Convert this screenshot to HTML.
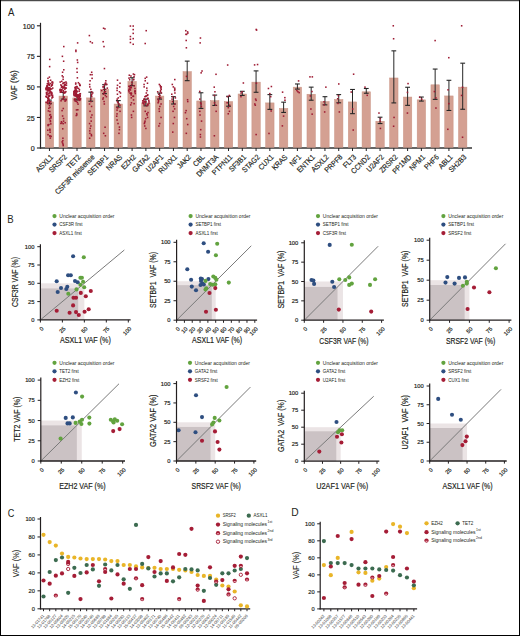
<!DOCTYPE html>
<html><head><meta charset="utf-8"><style>
html,body{margin:0;padding:0;background:#fff;}
svg{display:block;font-family:"Liberation Sans", sans-serif;}
</style></head><body>
<svg width="520" height="636" viewBox="0 0 520 636">
<rect x="0" y="0" width="520" height="636" fill="#fff"/>
<text x="7.90" y="15.80" font-size="10.6" text-anchor="start" fill="#231f20" textLength="6.40" lengthAdjust="spacingAndGlyphs">A</text>
<line x1="40.50" y1="22.80" x2="40.50" y2="148.60" stroke="#231f20" stroke-width="1.2"/>
<line x1="39.90" y1="148.00" x2="472.00" y2="148.00" stroke="#333" stroke-width="1.4"/>
<line x1="36.90" y1="148.00" x2="40.50" y2="148.00" stroke="#231f20" stroke-width="1.1"/>
<text x="34.60" y="151.10" font-size="7.1" text-anchor="end" fill="#231f20" stroke="#231f20" stroke-width="0.18">0</text>
<line x1="36.90" y1="117.45" x2="40.50" y2="117.45" stroke="#231f20" stroke-width="1.1"/>
<text x="34.60" y="120.55" font-size="7.1" text-anchor="end" fill="#231f20" stroke="#231f20" stroke-width="0.18">25</text>
<line x1="36.90" y1="86.90" x2="40.50" y2="86.90" stroke="#231f20" stroke-width="1.1"/>
<text x="34.60" y="90.00" font-size="7.1" text-anchor="end" fill="#231f20" stroke="#231f20" stroke-width="0.18">50</text>
<line x1="36.90" y1="56.35" x2="40.50" y2="56.35" stroke="#231f20" stroke-width="1.1"/>
<text x="34.60" y="59.45" font-size="7.1" text-anchor="end" fill="#231f20" stroke="#231f20" stroke-width="0.18">75</text>
<line x1="36.90" y1="25.80" x2="40.50" y2="25.80" stroke="#231f20" stroke-width="1.1"/>
<text x="34.60" y="28.90" font-size="7.1" text-anchor="end" fill="#231f20" stroke="#231f20" stroke-width="0.18">100</text>
<text x="16.90" y="85.35" font-size="8.6" text-anchor="middle" fill="#231f20" stroke="#231f20" stroke-width="0.18" transform="rotate(-90 16.90 85.35)" textLength="29.90" lengthAdjust="spacingAndGlyphs">VAF (%)</text>
<rect x="45.25" y="101.93" width="8.4" height="45.37" fill="#d4a092" stroke="#c99383" stroke-width="0.5"/>
<rect x="59.02" y="96.06" width="8.4" height="51.24" fill="#d4a092" stroke="#c99383" stroke-width="0.5"/>
<rect x="72.80" y="97.90" width="8.4" height="49.40" fill="#d4a092" stroke="#c99383" stroke-width="0.5"/>
<rect x="86.58" y="97.90" width="8.4" height="49.40" fill="#d4a092" stroke="#c99383" stroke-width="0.5"/>
<rect x="100.35" y="89.59" width="8.4" height="57.71" fill="#d4a092" stroke="#c99383" stroke-width="0.5"/>
<rect x="114.12" y="104.01" width="8.4" height="43.29" fill="#d4a092" stroke="#c99383" stroke-width="0.5"/>
<rect x="127.90" y="81.40" width="8.4" height="65.90" fill="#d4a092" stroke="#c99383" stroke-width="0.5"/>
<rect x="141.68" y="102.91" width="8.4" height="44.39" fill="#d4a092" stroke="#c99383" stroke-width="0.5"/>
<rect x="155.45" y="96.06" width="8.4" height="51.24" fill="#d4a092" stroke="#c99383" stroke-width="0.5"/>
<rect x="169.23" y="100.34" width="8.4" height="46.96" fill="#d4a092" stroke="#c99383" stroke-width="0.5"/>
<rect x="183.00" y="71.62" width="8.4" height="75.68" fill="#d4a092" stroke="#c99383" stroke-width="0.5"/>
<rect x="196.78" y="100.95" width="8.4" height="46.35" fill="#d4a092" stroke="#c99383" stroke-width="0.5"/>
<rect x="210.55" y="100.59" width="8.4" height="46.71" fill="#d4a092" stroke="#c99383" stroke-width="0.5"/>
<rect x="224.33" y="101.56" width="8.4" height="45.74" fill="#d4a092" stroke="#c99383" stroke-width="0.5"/>
<rect x="238.10" y="93.99" width="8.4" height="53.31" fill="#d4a092" stroke="#c99383" stroke-width="0.5"/>
<rect x="251.88" y="82.13" width="8.4" height="65.17" fill="#d4a092" stroke="#c99383" stroke-width="0.5"/>
<rect x="265.65" y="102.91" width="8.4" height="44.39" fill="#d4a092" stroke="#c99383" stroke-width="0.5"/>
<rect x="279.43" y="108.41" width="8.4" height="38.89" fill="#d4a092" stroke="#c99383" stroke-width="0.5"/>
<rect x="293.20" y="87.14" width="8.4" height="60.16" fill="#d4a092" stroke="#c99383" stroke-width="0.5"/>
<rect x="306.98" y="94.23" width="8.4" height="53.07" fill="#d4a092" stroke="#c99383" stroke-width="0.5"/>
<rect x="320.75" y="101.56" width="8.4" height="45.74" fill="#d4a092" stroke="#c99383" stroke-width="0.5"/>
<rect x="334.53" y="99.49" width="8.4" height="47.81" fill="#d4a092" stroke="#c99383" stroke-width="0.5"/>
<rect x="348.30" y="101.93" width="8.4" height="45.37" fill="#d4a092" stroke="#c99383" stroke-width="0.5"/>
<rect x="362.07" y="91.79" width="8.4" height="55.51" fill="#d4a092" stroke="#c99383" stroke-width="0.5"/>
<rect x="375.85" y="121.24" width="8.4" height="26.06" fill="#d4a092" stroke="#c99383" stroke-width="0.5"/>
<rect x="389.62" y="77.98" width="8.4" height="69.32" fill="#d4a092" stroke="#c99383" stroke-width="0.5"/>
<rect x="403.40" y="97.04" width="8.4" height="50.26" fill="#d4a092" stroke="#c99383" stroke-width="0.5"/>
<rect x="417.18" y="99.85" width="8.4" height="47.45" fill="#d4a092" stroke="#c99383" stroke-width="0.5"/>
<rect x="430.95" y="84.82" width="8.4" height="62.48" fill="#d4a092" stroke="#c99383" stroke-width="0.5"/>
<rect x="444.73" y="95.94" width="8.4" height="51.36" fill="#d4a092" stroke="#c99383" stroke-width="0.5"/>
<rect x="458.50" y="87.14" width="8.4" height="60.16" fill="#d4a092" stroke="#c99383" stroke-width="0.5"/>
<line x1="49.45" y1="100.10" x2="49.45" y2="103.64" stroke="#262626" stroke-width="1.0"/>
<line x1="47.05" y1="100.10" x2="51.85" y2="100.10" stroke="#262626" stroke-width="1.1"/>
<line x1="47.05" y1="103.64" x2="51.85" y2="103.64" stroke="#262626" stroke-width="1.1"/>
<line x1="49.45" y1="148.00" x2="49.45" y2="151.00" stroke="#231f20" stroke-width="1.0"/>
<text x="53.75" y="157.70" font-size="7.6" text-anchor="end" fill="#231f20" stroke="#231f20" stroke-width="0.18" transform="rotate(-45 53.75 157.70)" textLength="21.03" lengthAdjust="spacingAndGlyphs">ASXL1</text>
<line x1="63.23" y1="92.40" x2="63.23" y2="99.12" stroke="#262626" stroke-width="1.0"/>
<line x1="60.83" y1="92.40" x2="65.62" y2="92.40" stroke="#262626" stroke-width="1.1"/>
<line x1="60.83" y1="99.12" x2="65.62" y2="99.12" stroke="#262626" stroke-width="1.1"/>
<line x1="63.23" y1="148.00" x2="63.23" y2="151.00" stroke="#231f20" stroke-width="1.0"/>
<text x="67.53" y="157.70" font-size="7.6" text-anchor="end" fill="#231f20" stroke="#231f20" stroke-width="0.18" transform="rotate(-45 67.53 157.70)" textLength="21.77" lengthAdjust="spacingAndGlyphs">SRSF2</text>
<line x1="77.00" y1="95.45" x2="77.00" y2="99.98" stroke="#262626" stroke-width="1.0"/>
<line x1="74.60" y1="95.45" x2="79.40" y2="95.45" stroke="#262626" stroke-width="1.1"/>
<line x1="74.60" y1="99.98" x2="79.40" y2="99.98" stroke="#262626" stroke-width="1.1"/>
<line x1="77.00" y1="148.00" x2="77.00" y2="151.00" stroke="#231f20" stroke-width="1.0"/>
<text x="81.30" y="157.70" font-size="7.6" text-anchor="end" fill="#231f20" stroke="#231f20" stroke-width="0.18" transform="rotate(-45 81.30 157.70)" textLength="16.51" lengthAdjust="spacingAndGlyphs">TET2</text>
<line x1="90.78" y1="92.15" x2="90.78" y2="101.20" stroke="#262626" stroke-width="1.0"/>
<line x1="88.38" y1="92.15" x2="93.18" y2="92.15" stroke="#262626" stroke-width="1.1"/>
<line x1="88.38" y1="101.20" x2="93.18" y2="101.20" stroke="#262626" stroke-width="1.1"/>
<line x1="90.78" y1="148.00" x2="90.78" y2="151.00" stroke="#231f20" stroke-width="1.0"/>
<text x="95.08" y="157.70" font-size="7.6" text-anchor="end" fill="#231f20" stroke="#231f20" stroke-width="0.18" transform="rotate(-45 95.08 157.70)" textLength="52.55" lengthAdjust="spacingAndGlyphs">CSF3R missense</text>
<line x1="104.55" y1="84.70" x2="104.55" y2="93.62" stroke="#262626" stroke-width="1.0"/>
<line x1="102.15" y1="84.70" x2="106.95" y2="84.70" stroke="#262626" stroke-width="1.1"/>
<line x1="102.15" y1="93.62" x2="106.95" y2="93.62" stroke="#262626" stroke-width="1.1"/>
<line x1="104.55" y1="148.00" x2="104.55" y2="151.00" stroke="#231f20" stroke-width="1.0"/>
<text x="108.85" y="157.70" font-size="7.6" text-anchor="end" fill="#231f20" stroke="#231f20" stroke-width="0.18" transform="rotate(-45 108.85 157.70)" textLength="25.91" lengthAdjust="spacingAndGlyphs">SETBP1</text>
<line x1="118.33" y1="100.59" x2="118.33" y2="107.06" stroke="#262626" stroke-width="1.0"/>
<line x1="115.92" y1="100.59" x2="120.73" y2="100.59" stroke="#262626" stroke-width="1.1"/>
<line x1="115.92" y1="107.06" x2="120.73" y2="107.06" stroke="#262626" stroke-width="1.1"/>
<line x1="118.33" y1="148.00" x2="118.33" y2="151.00" stroke="#231f20" stroke-width="1.0"/>
<text x="122.62" y="157.70" font-size="7.6" text-anchor="end" fill="#231f20" stroke="#231f20" stroke-width="0.18" transform="rotate(-45 122.62 157.70)" textLength="18.77" lengthAdjust="spacingAndGlyphs">NRAS</text>
<line x1="132.10" y1="77.73" x2="132.10" y2="85.68" stroke="#262626" stroke-width="1.0"/>
<line x1="129.70" y1="77.73" x2="134.50" y2="77.73" stroke="#262626" stroke-width="1.1"/>
<line x1="129.70" y1="85.68" x2="134.50" y2="85.68" stroke="#262626" stroke-width="1.1"/>
<line x1="132.10" y1="148.00" x2="132.10" y2="151.00" stroke="#231f20" stroke-width="1.0"/>
<text x="136.40" y="157.70" font-size="7.6" text-anchor="end" fill="#231f20" stroke="#231f20" stroke-width="0.18" transform="rotate(-45 136.40 157.70)" textLength="17.27" lengthAdjust="spacingAndGlyphs">EZH2</text>
<line x1="145.88" y1="99.12" x2="145.88" y2="105.84" stroke="#262626" stroke-width="1.0"/>
<line x1="143.47" y1="99.12" x2="148.28" y2="99.12" stroke="#262626" stroke-width="1.1"/>
<line x1="143.47" y1="105.84" x2="148.28" y2="105.84" stroke="#262626" stroke-width="1.1"/>
<line x1="145.88" y1="148.00" x2="145.88" y2="151.00" stroke="#231f20" stroke-width="1.0"/>
<text x="150.18" y="157.70" font-size="7.6" text-anchor="end" fill="#231f20" stroke="#231f20" stroke-width="0.18" transform="rotate(-45 150.18 157.70)" textLength="21.15" lengthAdjust="spacingAndGlyphs">GATA2</text>
<line x1="159.65" y1="93.01" x2="159.65" y2="99.12" stroke="#262626" stroke-width="1.0"/>
<line x1="157.25" y1="93.01" x2="162.05" y2="93.01" stroke="#262626" stroke-width="1.1"/>
<line x1="157.25" y1="99.12" x2="162.05" y2="99.12" stroke="#262626" stroke-width="1.1"/>
<line x1="159.65" y1="148.00" x2="159.65" y2="151.00" stroke="#231f20" stroke-width="1.0"/>
<text x="163.95" y="157.70" font-size="7.6" text-anchor="end" fill="#231f20" stroke="#231f20" stroke-width="0.18" transform="rotate(-45 163.95 157.70)" textLength="21.02" lengthAdjust="spacingAndGlyphs">U2AF1</text>
<line x1="173.43" y1="96.68" x2="173.43" y2="104.01" stroke="#262626" stroke-width="1.0"/>
<line x1="171.03" y1="96.68" x2="175.83" y2="96.68" stroke="#262626" stroke-width="1.1"/>
<line x1="171.03" y1="104.01" x2="175.83" y2="104.01" stroke="#262626" stroke-width="1.1"/>
<line x1="173.43" y1="148.00" x2="173.43" y2="151.00" stroke="#231f20" stroke-width="1.0"/>
<text x="177.73" y="157.70" font-size="7.6" text-anchor="end" fill="#231f20" stroke="#231f20" stroke-width="0.18" transform="rotate(-45 177.73 157.70)" textLength="22.90" lengthAdjust="spacingAndGlyphs">RUNX1</text>
<line x1="187.20" y1="61.12" x2="187.20" y2="80.67" stroke="#262626" stroke-width="1.0"/>
<line x1="184.80" y1="61.12" x2="189.60" y2="61.12" stroke="#262626" stroke-width="1.1"/>
<line x1="184.80" y1="80.67" x2="189.60" y2="80.67" stroke="#262626" stroke-width="1.1"/>
<line x1="187.20" y1="148.00" x2="187.20" y2="151.00" stroke="#231f20" stroke-width="1.0"/>
<text x="191.50" y="157.70" font-size="7.6" text-anchor="end" fill="#231f20" stroke="#231f20" stroke-width="0.18" transform="rotate(-45 191.50 157.70)" textLength="16.15" lengthAdjust="spacingAndGlyphs">JAK2</text>
<line x1="200.98" y1="92.77" x2="200.98" y2="108.41" stroke="#262626" stroke-width="1.0"/>
<line x1="198.58" y1="92.77" x2="203.38" y2="92.77" stroke="#262626" stroke-width="1.1"/>
<line x1="198.58" y1="108.41" x2="203.38" y2="108.41" stroke="#262626" stroke-width="1.1"/>
<line x1="200.98" y1="148.00" x2="200.98" y2="151.00" stroke="#231f20" stroke-width="1.0"/>
<text x="205.28" y="157.70" font-size="7.6" text-anchor="end" fill="#231f20" stroke="#231f20" stroke-width="0.18" transform="rotate(-45 205.28 157.70)" textLength="13.14" lengthAdjust="spacingAndGlyphs">CBL</text>
<line x1="214.75" y1="95.09" x2="214.75" y2="105.47" stroke="#262626" stroke-width="1.0"/>
<line x1="212.35" y1="95.09" x2="217.15" y2="95.09" stroke="#262626" stroke-width="1.1"/>
<line x1="212.35" y1="105.47" x2="217.15" y2="105.47" stroke="#262626" stroke-width="1.1"/>
<line x1="214.75" y1="148.00" x2="214.75" y2="151.00" stroke="#231f20" stroke-width="1.0"/>
<text x="219.05" y="157.70" font-size="7.6" text-anchor="end" fill="#231f20" stroke="#231f20" stroke-width="0.18" transform="rotate(-45 219.05 157.70)" textLength="27.77" lengthAdjust="spacingAndGlyphs">DNMT3A</text>
<line x1="228.53" y1="96.31" x2="228.53" y2="106.21" stroke="#262626" stroke-width="1.0"/>
<line x1="226.13" y1="96.31" x2="230.93" y2="96.31" stroke="#262626" stroke-width="1.1"/>
<line x1="226.13" y1="106.21" x2="230.93" y2="106.21" stroke="#262626" stroke-width="1.1"/>
<line x1="228.53" y1="148.00" x2="228.53" y2="151.00" stroke="#231f20" stroke-width="1.0"/>
<text x="232.83" y="157.70" font-size="7.6" text-anchor="end" fill="#231f20" stroke="#231f20" stroke-width="0.18" transform="rotate(-45 232.83 157.70)" textLength="25.03" lengthAdjust="spacingAndGlyphs">PTPN11</text>
<line x1="242.30" y1="91.30" x2="242.30" y2="95.45" stroke="#262626" stroke-width="1.0"/>
<line x1="239.90" y1="91.30" x2="244.70" y2="91.30" stroke="#262626" stroke-width="1.1"/>
<line x1="239.90" y1="95.45" x2="244.70" y2="95.45" stroke="#262626" stroke-width="1.1"/>
<line x1="242.30" y1="148.00" x2="242.30" y2="151.00" stroke="#231f20" stroke-width="1.0"/>
<text x="246.60" y="157.70" font-size="7.6" text-anchor="end" fill="#231f20" stroke="#231f20" stroke-width="0.18" transform="rotate(-45 246.60 157.70)" textLength="20.65" lengthAdjust="spacingAndGlyphs">SF3B1</text>
<line x1="256.07" y1="70.89" x2="256.07" y2="92.28" stroke="#262626" stroke-width="1.0"/>
<line x1="253.67" y1="70.89" x2="258.47" y2="70.89" stroke="#262626" stroke-width="1.1"/>
<line x1="253.67" y1="92.28" x2="258.47" y2="92.28" stroke="#262626" stroke-width="1.1"/>
<line x1="256.07" y1="148.00" x2="256.07" y2="151.00" stroke="#231f20" stroke-width="1.0"/>
<text x="260.38" y="157.70" font-size="7.6" text-anchor="end" fill="#231f20" stroke="#231f20" stroke-width="0.18" transform="rotate(-45 260.38 157.70)" textLength="21.65" lengthAdjust="spacingAndGlyphs">STAG2</text>
<line x1="269.85" y1="94.60" x2="269.85" y2="109.38" stroke="#262626" stroke-width="1.0"/>
<line x1="267.45" y1="94.60" x2="272.25" y2="94.60" stroke="#262626" stroke-width="1.1"/>
<line x1="267.45" y1="109.38" x2="272.25" y2="109.38" stroke="#262626" stroke-width="1.1"/>
<line x1="269.85" y1="148.00" x2="269.85" y2="151.00" stroke="#231f20" stroke-width="1.0"/>
<text x="274.15" y="157.70" font-size="7.6" text-anchor="end" fill="#231f20" stroke="#231f20" stroke-width="0.18" transform="rotate(-45 274.15 157.70)" textLength="18.02" lengthAdjust="spacingAndGlyphs">CUX1</text>
<line x1="283.62" y1="102.17" x2="283.62" y2="112.44" stroke="#262626" stroke-width="1.0"/>
<line x1="281.23" y1="102.17" x2="286.02" y2="102.17" stroke="#262626" stroke-width="1.1"/>
<line x1="281.23" y1="112.44" x2="286.02" y2="112.44" stroke="#262626" stroke-width="1.1"/>
<line x1="283.62" y1="148.00" x2="283.62" y2="151.00" stroke="#231f20" stroke-width="1.0"/>
<text x="287.93" y="157.70" font-size="7.6" text-anchor="end" fill="#231f20" stroke="#231f20" stroke-width="0.18" transform="rotate(-45 287.93 157.70)" textLength="18.40" lengthAdjust="spacingAndGlyphs">KRAS</text>
<line x1="297.40" y1="83.97" x2="297.40" y2="89.10" stroke="#262626" stroke-width="1.0"/>
<line x1="295.00" y1="83.97" x2="299.80" y2="83.97" stroke="#262626" stroke-width="1.1"/>
<line x1="295.00" y1="89.10" x2="299.80" y2="89.10" stroke="#262626" stroke-width="1.1"/>
<line x1="297.40" y1="148.00" x2="297.40" y2="151.00" stroke="#231f20" stroke-width="1.0"/>
<text x="301.70" y="157.70" font-size="7.6" text-anchor="end" fill="#231f20" stroke="#231f20" stroke-width="0.18" transform="rotate(-45 301.70 157.70)" textLength="12.76" lengthAdjust="spacingAndGlyphs">NF1</text>
<line x1="311.18" y1="87.14" x2="311.18" y2="100.22" stroke="#262626" stroke-width="1.0"/>
<line x1="308.78" y1="87.14" x2="313.57" y2="87.14" stroke="#262626" stroke-width="1.1"/>
<line x1="308.78" y1="100.22" x2="313.57" y2="100.22" stroke="#262626" stroke-width="1.1"/>
<line x1="311.18" y1="148.00" x2="311.18" y2="151.00" stroke="#231f20" stroke-width="1.0"/>
<text x="315.48" y="157.70" font-size="7.6" text-anchor="end" fill="#231f20" stroke="#231f20" stroke-width="0.18" transform="rotate(-45 315.48 157.70)" textLength="21.77" lengthAdjust="spacingAndGlyphs">ENTK1</text>
<line x1="324.95" y1="96.68" x2="324.95" y2="104.86" stroke="#262626" stroke-width="1.0"/>
<line x1="322.55" y1="96.68" x2="327.35" y2="96.68" stroke="#262626" stroke-width="1.1"/>
<line x1="322.55" y1="104.86" x2="327.35" y2="104.86" stroke="#262626" stroke-width="1.1"/>
<line x1="324.95" y1="148.00" x2="324.95" y2="151.00" stroke="#231f20" stroke-width="1.0"/>
<text x="329.25" y="157.70" font-size="7.6" text-anchor="end" fill="#231f20" stroke="#231f20" stroke-width="0.18" transform="rotate(-45 329.25 157.70)" textLength="21.03" lengthAdjust="spacingAndGlyphs">ASXL2</text>
<line x1="338.73" y1="94.60" x2="338.73" y2="102.79" stroke="#262626" stroke-width="1.0"/>
<line x1="336.33" y1="94.60" x2="341.12" y2="94.60" stroke="#262626" stroke-width="1.1"/>
<line x1="336.33" y1="102.79" x2="341.12" y2="102.79" stroke="#262626" stroke-width="1.1"/>
<line x1="338.73" y1="148.00" x2="338.73" y2="151.00" stroke="#231f20" stroke-width="1.0"/>
<text x="343.03" y="157.70" font-size="7.6" text-anchor="end" fill="#231f20" stroke="#231f20" stroke-width="0.18" transform="rotate(-45 343.03 157.70)" textLength="21.77" lengthAdjust="spacingAndGlyphs">PRPF8</text>
<line x1="352.50" y1="89.47" x2="352.50" y2="113.66" stroke="#262626" stroke-width="1.0"/>
<line x1="350.10" y1="89.47" x2="354.90" y2="89.47" stroke="#262626" stroke-width="1.1"/>
<line x1="350.10" y1="113.66" x2="354.90" y2="113.66" stroke="#262626" stroke-width="1.1"/>
<line x1="352.50" y1="148.00" x2="352.50" y2="151.00" stroke="#231f20" stroke-width="1.0"/>
<text x="356.80" y="157.70" font-size="7.6" text-anchor="end" fill="#231f20" stroke="#231f20" stroke-width="0.18" transform="rotate(-45 356.80 157.70)" textLength="15.26" lengthAdjust="spacingAndGlyphs">FLT3</text>
<line x1="366.27" y1="88.49" x2="366.27" y2="93.25" stroke="#262626" stroke-width="1.0"/>
<line x1="363.88" y1="88.49" x2="368.67" y2="88.49" stroke="#262626" stroke-width="1.1"/>
<line x1="363.88" y1="93.25" x2="368.67" y2="93.25" stroke="#262626" stroke-width="1.1"/>
<line x1="366.27" y1="148.00" x2="366.27" y2="151.00" stroke="#231f20" stroke-width="1.0"/>
<text x="370.57" y="157.70" font-size="7.6" text-anchor="end" fill="#231f20" stroke="#231f20" stroke-width="0.18" transform="rotate(-45 370.57 157.70)" textLength="23.27" lengthAdjust="spacingAndGlyphs">CCND2</text>
<line x1="380.05" y1="117.21" x2="380.05" y2="123.56" stroke="#262626" stroke-width="1.0"/>
<line x1="377.65" y1="117.21" x2="382.45" y2="117.21" stroke="#262626" stroke-width="1.1"/>
<line x1="377.65" y1="123.56" x2="382.45" y2="123.56" stroke="#262626" stroke-width="1.1"/>
<line x1="380.05" y1="148.00" x2="380.05" y2="151.00" stroke="#231f20" stroke-width="1.0"/>
<text x="384.35" y="157.70" font-size="7.6" text-anchor="end" fill="#231f20" stroke="#231f20" stroke-width="0.18" transform="rotate(-45 384.35 157.70)" textLength="21.02" lengthAdjust="spacingAndGlyphs">U2AF2</text>
<line x1="393.82" y1="50.85" x2="393.82" y2="102.91" stroke="#262626" stroke-width="1.0"/>
<line x1="391.43" y1="50.85" x2="396.22" y2="50.85" stroke="#262626" stroke-width="1.1"/>
<line x1="391.43" y1="102.91" x2="396.22" y2="102.91" stroke="#262626" stroke-width="1.1"/>
<line x1="393.82" y1="148.00" x2="393.82" y2="151.00" stroke="#231f20" stroke-width="1.0"/>
<text x="398.12" y="157.70" font-size="7.6" text-anchor="end" fill="#231f20" stroke="#231f20" stroke-width="0.18" transform="rotate(-45 398.12 157.70)" textLength="22.14" lengthAdjust="spacingAndGlyphs">ZRSR2</text>
<line x1="407.60" y1="87.27" x2="407.60" y2="105.35" stroke="#262626" stroke-width="1.0"/>
<line x1="405.20" y1="87.27" x2="410.00" y2="87.27" stroke="#262626" stroke-width="1.1"/>
<line x1="405.20" y1="105.35" x2="410.00" y2="105.35" stroke="#262626" stroke-width="1.1"/>
<line x1="407.60" y1="148.00" x2="407.60" y2="151.00" stroke="#231f20" stroke-width="1.0"/>
<text x="411.90" y="157.70" font-size="7.6" text-anchor="end" fill="#231f20" stroke="#231f20" stroke-width="0.18" transform="rotate(-45 411.90 157.70)" textLength="23.27" lengthAdjust="spacingAndGlyphs">PP1MD</text>
<line x1="421.38" y1="97.04" x2="421.38" y2="101.08" stroke="#262626" stroke-width="1.0"/>
<line x1="418.98" y1="97.04" x2="423.77" y2="97.04" stroke="#262626" stroke-width="1.1"/>
<line x1="418.98" y1="101.08" x2="423.77" y2="101.08" stroke="#262626" stroke-width="1.1"/>
<line x1="421.38" y1="148.00" x2="421.38" y2="151.00" stroke="#231f20" stroke-width="1.0"/>
<text x="425.68" y="157.70" font-size="7.6" text-anchor="end" fill="#231f20" stroke="#231f20" stroke-width="0.18" transform="rotate(-45 425.68 157.70)" textLength="18.77" lengthAdjust="spacingAndGlyphs">NPM1</text>
<line x1="435.15" y1="69.06" x2="435.15" y2="99.36" stroke="#262626" stroke-width="1.0"/>
<line x1="432.75" y1="69.06" x2="437.55" y2="69.06" stroke="#262626" stroke-width="1.1"/>
<line x1="432.75" y1="99.36" x2="437.55" y2="99.36" stroke="#262626" stroke-width="1.1"/>
<line x1="435.15" y1="148.00" x2="435.15" y2="151.00" stroke="#231f20" stroke-width="1.0"/>
<text x="439.45" y="157.70" font-size="7.6" text-anchor="end" fill="#231f20" stroke="#231f20" stroke-width="0.18" transform="rotate(-45 439.45 157.70)" textLength="17.27" lengthAdjust="spacingAndGlyphs">PHF6</text>
<line x1="448.93" y1="80.30" x2="448.93" y2="110.48" stroke="#262626" stroke-width="1.0"/>
<line x1="446.53" y1="80.30" x2="451.32" y2="80.30" stroke="#262626" stroke-width="1.1"/>
<line x1="446.53" y1="110.48" x2="451.32" y2="110.48" stroke="#262626" stroke-width="1.1"/>
<line x1="448.93" y1="148.00" x2="448.93" y2="151.00" stroke="#231f20" stroke-width="1.0"/>
<text x="453.23" y="157.70" font-size="7.6" text-anchor="end" fill="#231f20" stroke="#231f20" stroke-width="0.18" transform="rotate(-45 453.23 157.70)" textLength="16.52" lengthAdjust="spacingAndGlyphs">ABL1</text>
<line x1="462.70" y1="63.19" x2="462.70" y2="109.26" stroke="#262626" stroke-width="1.0"/>
<line x1="460.30" y1="63.19" x2="465.10" y2="63.19" stroke="#262626" stroke-width="1.1"/>
<line x1="460.30" y1="109.26" x2="465.10" y2="109.26" stroke="#262626" stroke-width="1.1"/>
<line x1="462.70" y1="148.00" x2="462.70" y2="151.00" stroke="#231f20" stroke-width="1.0"/>
<text x="467.00" y="157.70" font-size="7.6" text-anchor="end" fill="#231f20" stroke="#231f20" stroke-width="0.18" transform="rotate(-45 467.00 157.70)" textLength="21.40" lengthAdjust="spacingAndGlyphs">SH2B3</text>
<rect x="50.73" y="92.73" width="1.55" height="1.55" fill="#9e1b33"/>
<rect x="45.84" y="87.58" width="1.55" height="1.55" fill="#9e1b33"/>
<rect x="51.10" y="92.53" width="1.55" height="1.55" fill="#9e1b33"/>
<rect x="45.73" y="93.13" width="1.55" height="1.55" fill="#9e1b33"/>
<rect x="51.14" y="97.26" width="1.55" height="1.55" fill="#9e1b33"/>
<rect x="48.36" y="92.45" width="1.55" height="1.55" fill="#9e1b33"/>
<rect x="47.58" y="83.54" width="1.55" height="1.55" fill="#9e1b33"/>
<rect x="49.04" y="88.16" width="1.55" height="1.55" fill="#9e1b33"/>
<rect x="51.58" y="84.04" width="1.55" height="1.55" fill="#9e1b33"/>
<rect x="47.10" y="89.34" width="1.55" height="1.55" fill="#9e1b33"/>
<rect x="46.15" y="88.36" width="1.55" height="1.55" fill="#9e1b33"/>
<rect x="48.86" y="89.77" width="1.55" height="1.55" fill="#9e1b33"/>
<rect x="46.90" y="102.21" width="1.55" height="1.55" fill="#9e1b33"/>
<rect x="46.02" y="85.26" width="1.55" height="1.55" fill="#9e1b33"/>
<rect x="46.37" y="87.61" width="1.55" height="1.55" fill="#9e1b33"/>
<rect x="45.62" y="87.66" width="1.55" height="1.55" fill="#9e1b33"/>
<rect x="46.80" y="102.38" width="1.55" height="1.55" fill="#9e1b33"/>
<rect x="47.40" y="102.73" width="1.55" height="1.55" fill="#9e1b33"/>
<rect x="47.35" y="96.99" width="1.55" height="1.55" fill="#9e1b33"/>
<rect x="50.44" y="94.16" width="1.55" height="1.55" fill="#9e1b33"/>
<rect x="47.25" y="88.96" width="1.55" height="1.55" fill="#9e1b33"/>
<rect x="48.68" y="91.32" width="1.55" height="1.55" fill="#9e1b33"/>
<rect x="46.48" y="87.51" width="1.55" height="1.55" fill="#9e1b33"/>
<rect x="47.63" y="95.33" width="1.55" height="1.55" fill="#9e1b33"/>
<rect x="45.40" y="88.94" width="1.55" height="1.55" fill="#9e1b33"/>
<rect x="46.98" y="88.36" width="1.55" height="1.55" fill="#9e1b33"/>
<rect x="45.38" y="95.46" width="1.55" height="1.55" fill="#9e1b33"/>
<rect x="49.83" y="79.47" width="1.55" height="1.55" fill="#9e1b33"/>
<rect x="49.02" y="87.27" width="1.55" height="1.55" fill="#9e1b33"/>
<rect x="46.56" y="82.97" width="1.55" height="1.55" fill="#9e1b33"/>
<rect x="48.50" y="95.18" width="1.55" height="1.55" fill="#9e1b33"/>
<rect x="51.63" y="95.98" width="1.55" height="1.55" fill="#9e1b33"/>
<rect x="46.00" y="93.33" width="1.55" height="1.55" fill="#9e1b33"/>
<rect x="50.84" y="91.73" width="1.55" height="1.55" fill="#9e1b33"/>
<rect x="48.21" y="86.76" width="1.55" height="1.55" fill="#9e1b33"/>
<rect x="48.64" y="89.34" width="1.55" height="1.55" fill="#9e1b33"/>
<rect x="50.95" y="94.02" width="1.55" height="1.55" fill="#9e1b33"/>
<rect x="47.95" y="97.44" width="1.55" height="1.55" fill="#9e1b33"/>
<rect x="48.72" y="94.51" width="1.55" height="1.55" fill="#9e1b33"/>
<rect x="49.95" y="82.81" width="1.55" height="1.55" fill="#9e1b33"/>
<rect x="51.96" y="96.44" width="1.55" height="1.55" fill="#9e1b33"/>
<rect x="47.61" y="89.37" width="1.55" height="1.55" fill="#9e1b33"/>
<rect x="50.93" y="88.15" width="1.55" height="1.55" fill="#9e1b33"/>
<rect x="50.08" y="101.03" width="1.55" height="1.55" fill="#9e1b33"/>
<rect x="49.60" y="90.69" width="1.55" height="1.55" fill="#9e1b33"/>
<rect x="48.03" y="82.23" width="1.55" height="1.55" fill="#9e1b33"/>
<rect x="47.64" y="93.17" width="1.55" height="1.55" fill="#9e1b33"/>
<rect x="45.64" y="91.73" width="1.55" height="1.55" fill="#9e1b33"/>
<rect x="46.16" y="96.51" width="1.55" height="1.55" fill="#9e1b33"/>
<rect x="45.76" y="87.67" width="1.55" height="1.55" fill="#9e1b33"/>
<rect x="50.31" y="91.43" width="1.55" height="1.55" fill="#9e1b33"/>
<rect x="47.01" y="100.86" width="1.55" height="1.55" fill="#9e1b33"/>
<rect x="46.39" y="85.45" width="1.55" height="1.55" fill="#9e1b33"/>
<rect x="45.85" y="86.51" width="1.55" height="1.55" fill="#9e1b33"/>
<rect x="51.00" y="84.66" width="1.55" height="1.55" fill="#9e1b33"/>
<rect x="51.19" y="81.33" width="1.55" height="1.55" fill="#9e1b33"/>
<rect x="49.83" y="88.58" width="1.55" height="1.55" fill="#9e1b33"/>
<rect x="47.19" y="90.21" width="1.55" height="1.55" fill="#9e1b33"/>
<rect x="46.92" y="99.74" width="1.55" height="1.55" fill="#9e1b33"/>
<rect x="47.27" y="86.88" width="1.55" height="1.55" fill="#9e1b33"/>
<rect x="48.40" y="95.12" width="1.55" height="1.55" fill="#9e1b33"/>
<rect x="46.35" y="94.06" width="1.55" height="1.55" fill="#9e1b33"/>
<rect x="48.31" y="99.51" width="1.55" height="1.55" fill="#9e1b33"/>
<rect x="47.07" y="97.52" width="1.55" height="1.55" fill="#9e1b33"/>
<rect x="51.82" y="94.58" width="1.55" height="1.55" fill="#9e1b33"/>
<rect x="51.89" y="82.35" width="1.55" height="1.55" fill="#9e1b33"/>
<rect x="49.00" y="100.81" width="1.55" height="1.55" fill="#9e1b33"/>
<rect x="46.94" y="89.40" width="1.55" height="1.55" fill="#9e1b33"/>
<rect x="51.84" y="81.31" width="1.55" height="1.55" fill="#9e1b33"/>
<rect x="47.38" y="87.12" width="1.55" height="1.55" fill="#9e1b33"/>
<rect x="47.70" y="88.61" width="1.55" height="1.55" fill="#9e1b33"/>
<rect x="45.28" y="95.96" width="1.55" height="1.55" fill="#9e1b33"/>
<rect x="47.87" y="98.54" width="1.55" height="1.55" fill="#9e1b33"/>
<rect x="48.50" y="84.44" width="1.55" height="1.55" fill="#9e1b33"/>
<rect x="48.69" y="83.61" width="1.55" height="1.55" fill="#9e1b33"/>
<rect x="46.64" y="89.96" width="1.55" height="1.55" fill="#9e1b33"/>
<rect x="48.71" y="89.36" width="1.55" height="1.55" fill="#9e1b33"/>
<rect x="45.31" y="88.09" width="1.55" height="1.55" fill="#9e1b33"/>
<rect x="47.19" y="80.30" width="1.55" height="1.55" fill="#9e1b33"/>
<rect x="45.89" y="86.85" width="1.55" height="1.55" fill="#9e1b33"/>
<rect x="47.99" y="87.53" width="1.55" height="1.55" fill="#9e1b33"/>
<rect x="45.56" y="87.33" width="1.55" height="1.55" fill="#9e1b33"/>
<rect x="45.43" y="101.55" width="1.55" height="1.55" fill="#9e1b33"/>
<rect x="47.34" y="82.40" width="1.55" height="1.55" fill="#9e1b33"/>
<rect x="46.86" y="84.59" width="1.55" height="1.55" fill="#9e1b33"/>
<rect x="49.26" y="87.45" width="1.55" height="1.55" fill="#9e1b33"/>
<rect x="48.87" y="95.27" width="1.55" height="1.55" fill="#9e1b33"/>
<rect x="50.38" y="85.35" width="1.55" height="1.55" fill="#9e1b33"/>
<rect x="49.75" y="103.19" width="1.55" height="1.55" fill="#9e1b33"/>
<rect x="50.14" y="92.25" width="1.55" height="1.55" fill="#9e1b33"/>
<rect x="51.25" y="84.16" width="1.55" height="1.55" fill="#9e1b33"/>
<rect x="47.92" y="99.83" width="1.55" height="1.55" fill="#9e1b33"/>
<rect x="47.58" y="80.19" width="1.55" height="1.55" fill="#9e1b33"/>
<rect x="51.97" y="87.30" width="1.55" height="1.55" fill="#9e1b33"/>
<rect x="46.29" y="92.02" width="1.55" height="1.55" fill="#9e1b33"/>
<rect x="49.34" y="131.42" width="1.55" height="1.55" fill="#9e1b33"/>
<rect x="49.20" y="129.51" width="1.55" height="1.55" fill="#9e1b33"/>
<rect x="47.01" y="129.47" width="1.55" height="1.55" fill="#9e1b33"/>
<rect x="49.67" y="120.86" width="1.55" height="1.55" fill="#9e1b33"/>
<rect x="50.10" y="117.29" width="1.55" height="1.55" fill="#9e1b33"/>
<rect x="49.05" y="128.46" width="1.55" height="1.55" fill="#9e1b33"/>
<rect x="49.53" y="137.31" width="1.55" height="1.55" fill="#9e1b33"/>
<rect x="50.02" y="123.11" width="1.55" height="1.55" fill="#9e1b33"/>
<rect x="47.36" y="124.81" width="1.55" height="1.55" fill="#9e1b33"/>
<rect x="48.78" y="118.07" width="1.55" height="1.55" fill="#9e1b33"/>
<rect x="48.69" y="104.84" width="1.55" height="1.55" fill="#9e1b33"/>
<rect x="49.67" y="113.82" width="1.55" height="1.55" fill="#9e1b33"/>
<rect x="49.58" y="119.81" width="1.55" height="1.55" fill="#9e1b33"/>
<rect x="50.08" y="116.32" width="1.55" height="1.55" fill="#9e1b33"/>
<rect x="48.98" y="114.31" width="1.55" height="1.55" fill="#9e1b33"/>
<rect x="50.36" y="135.60" width="1.55" height="1.55" fill="#9e1b33"/>
<rect x="49.22" y="106.67" width="1.55" height="1.55" fill="#9e1b33"/>
<rect x="49.12" y="110.76" width="1.55" height="1.55" fill="#9e1b33"/>
<rect x="48.05" y="107.53" width="1.55" height="1.55" fill="#9e1b33"/>
<rect x="47.59" y="110.15" width="1.55" height="1.55" fill="#9e1b33"/>
<rect x="47.34" y="124.02" width="1.55" height="1.55" fill="#9e1b33"/>
<rect x="48.17" y="123.80" width="1.55" height="1.55" fill="#9e1b33"/>
<rect x="47.24" y="133.91" width="1.55" height="1.55" fill="#9e1b33"/>
<rect x="50.34" y="115.75" width="1.55" height="1.55" fill="#9e1b33"/>
<rect x="48.93" y="135.32" width="1.55" height="1.55" fill="#9e1b33"/>
<rect x="49.22" y="135.14" width="1.55" height="1.55" fill="#9e1b33"/>
<rect x="48.88" y="65.84" width="1.55" height="1.55" fill="#9e1b33"/>
<rect x="48.97" y="58.63" width="1.55" height="1.55" fill="#9e1b33"/>
<rect x="48.65" y="76.35" width="1.55" height="1.55" fill="#9e1b33"/>
<rect x="47.19" y="77.57" width="1.55" height="1.55" fill="#9e1b33"/>
<rect x="64.47" y="87.54" width="1.55" height="1.55" fill="#9e1b33"/>
<rect x="64.14" y="84.70" width="1.55" height="1.55" fill="#9e1b33"/>
<rect x="62.47" y="89.75" width="1.55" height="1.55" fill="#9e1b33"/>
<rect x="62.69" y="86.70" width="1.55" height="1.55" fill="#9e1b33"/>
<rect x="63.53" y="84.72" width="1.55" height="1.55" fill="#9e1b33"/>
<rect x="59.50" y="88.56" width="1.55" height="1.55" fill="#9e1b33"/>
<rect x="64.06" y="83.43" width="1.55" height="1.55" fill="#9e1b33"/>
<rect x="60.76" y="84.77" width="1.55" height="1.55" fill="#9e1b33"/>
<rect x="61.46" y="75.06" width="1.55" height="1.55" fill="#9e1b33"/>
<rect x="60.86" y="86.39" width="1.55" height="1.55" fill="#9e1b33"/>
<rect x="64.01" y="91.44" width="1.55" height="1.55" fill="#9e1b33"/>
<rect x="60.45" y="91.07" width="1.55" height="1.55" fill="#9e1b33"/>
<rect x="64.08" y="88.66" width="1.55" height="1.55" fill="#9e1b33"/>
<rect x="65.68" y="82.36" width="1.55" height="1.55" fill="#9e1b33"/>
<rect x="62.41" y="90.83" width="1.55" height="1.55" fill="#9e1b33"/>
<rect x="61.65" y="85.98" width="1.55" height="1.55" fill="#9e1b33"/>
<rect x="62.39" y="76.22" width="1.55" height="1.55" fill="#9e1b33"/>
<rect x="63.00" y="96.12" width="1.55" height="1.55" fill="#9e1b33"/>
<rect x="64.27" y="86.93" width="1.55" height="1.55" fill="#9e1b33"/>
<rect x="63.25" y="85.89" width="1.55" height="1.55" fill="#9e1b33"/>
<rect x="63.42" y="86.97" width="1.55" height="1.55" fill="#9e1b33"/>
<rect x="59.58" y="91.47" width="1.55" height="1.55" fill="#9e1b33"/>
<rect x="60.05" y="84.17" width="1.55" height="1.55" fill="#9e1b33"/>
<rect x="60.78" y="86.67" width="1.55" height="1.55" fill="#9e1b33"/>
<rect x="64.10" y="92.08" width="1.55" height="1.55" fill="#9e1b33"/>
<rect x="61.12" y="86.18" width="1.55" height="1.55" fill="#9e1b33"/>
<rect x="62.91" y="92.29" width="1.55" height="1.55" fill="#9e1b33"/>
<rect x="59.13" y="89.24" width="1.55" height="1.55" fill="#9e1b33"/>
<rect x="59.46" y="90.09" width="1.55" height="1.55" fill="#9e1b33"/>
<rect x="60.88" y="88.99" width="1.55" height="1.55" fill="#9e1b33"/>
<rect x="63.62" y="91.84" width="1.55" height="1.55" fill="#9e1b33"/>
<rect x="63.76" y="81.79" width="1.55" height="1.55" fill="#9e1b33"/>
<rect x="63.21" y="96.42" width="1.55" height="1.55" fill="#9e1b33"/>
<rect x="61.03" y="89.02" width="1.55" height="1.55" fill="#9e1b33"/>
<rect x="62.56" y="82.16" width="1.55" height="1.55" fill="#9e1b33"/>
<rect x="62.21" y="82.81" width="1.55" height="1.55" fill="#9e1b33"/>
<rect x="62.35" y="78.55" width="1.55" height="1.55" fill="#9e1b33"/>
<rect x="60.31" y="100.00" width="1.55" height="1.55" fill="#9e1b33"/>
<rect x="65.13" y="90.94" width="1.55" height="1.55" fill="#9e1b33"/>
<rect x="60.40" y="90.86" width="1.55" height="1.55" fill="#9e1b33"/>
<rect x="65.70" y="84.38" width="1.55" height="1.55" fill="#9e1b33"/>
<rect x="65.19" y="81.23" width="1.55" height="1.55" fill="#9e1b33"/>
<rect x="59.42" y="81.25" width="1.55" height="1.55" fill="#9e1b33"/>
<rect x="62.17" y="98.30" width="1.55" height="1.55" fill="#9e1b33"/>
<rect x="64.63" y="83.98" width="1.55" height="1.55" fill="#9e1b33"/>
<rect x="65.39" y="98.60" width="1.55" height="1.55" fill="#9e1b33"/>
<rect x="62.11" y="87.39" width="1.55" height="1.55" fill="#9e1b33"/>
<rect x="61.00" y="80.54" width="1.55" height="1.55" fill="#9e1b33"/>
<rect x="60.48" y="89.57" width="1.55" height="1.55" fill="#9e1b33"/>
<rect x="65.48" y="87.28" width="1.55" height="1.55" fill="#9e1b33"/>
<rect x="61.97" y="128.04" width="1.55" height="1.55" fill="#9e1b33"/>
<rect x="62.80" y="120.36" width="1.55" height="1.55" fill="#9e1b33"/>
<rect x="60.67" y="120.98" width="1.55" height="1.55" fill="#9e1b33"/>
<rect x="62.51" y="107.74" width="1.55" height="1.55" fill="#9e1b33"/>
<rect x="64.99" y="99.67" width="1.55" height="1.55" fill="#9e1b33"/>
<rect x="61.84" y="115.23" width="1.55" height="1.55" fill="#9e1b33"/>
<rect x="64.25" y="100.27" width="1.55" height="1.55" fill="#9e1b33"/>
<rect x="62.50" y="98.71" width="1.55" height="1.55" fill="#9e1b33"/>
<rect x="64.62" y="99.72" width="1.55" height="1.55" fill="#9e1b33"/>
<rect x="62.79" y="117.76" width="1.55" height="1.55" fill="#9e1b33"/>
<rect x="61.12" y="122.16" width="1.55" height="1.55" fill="#9e1b33"/>
<rect x="64.42" y="121.96" width="1.55" height="1.55" fill="#9e1b33"/>
<rect x="62.39" y="122.89" width="1.55" height="1.55" fill="#9e1b33"/>
<rect x="60.09" y="122.65" width="1.55" height="1.55" fill="#9e1b33"/>
<rect x="61.30" y="109.83" width="1.55" height="1.55" fill="#9e1b33"/>
<rect x="62.43" y="144.78" width="1.55" height="1.55" fill="#9e1b33"/>
<rect x="62.30" y="143.56" width="1.55" height="1.55" fill="#9e1b33"/>
<rect x="61.86" y="142.34" width="1.55" height="1.55" fill="#9e1b33"/>
<rect x="61.38" y="141.11" width="1.55" height="1.55" fill="#9e1b33"/>
<rect x="62.09" y="139.89" width="1.55" height="1.55" fill="#9e1b33"/>
<rect x="62.14" y="137.45" width="1.55" height="1.55" fill="#9e1b33"/>
<rect x="63.01" y="45.80" width="1.55" height="1.55" fill="#9e1b33"/>
<rect x="61.62" y="55.57" width="1.55" height="1.55" fill="#9e1b33"/>
<rect x="62.87" y="60.46" width="1.55" height="1.55" fill="#9e1b33"/>
<rect x="63.01" y="69.02" width="1.55" height="1.55" fill="#9e1b33"/>
<rect x="61.82" y="71.46" width="1.55" height="1.55" fill="#9e1b33"/>
<rect x="78.62" y="83.09" width="1.55" height="1.55" fill="#9e1b33"/>
<rect x="77.67" y="97.80" width="1.55" height="1.55" fill="#9e1b33"/>
<rect x="78.96" y="99.56" width="1.55" height="1.55" fill="#9e1b33"/>
<rect x="74.80" y="90.60" width="1.55" height="1.55" fill="#9e1b33"/>
<rect x="75.36" y="90.91" width="1.55" height="1.55" fill="#9e1b33"/>
<rect x="75.50" y="93.83" width="1.55" height="1.55" fill="#9e1b33"/>
<rect x="79.62" y="98.05" width="1.55" height="1.55" fill="#9e1b33"/>
<rect x="76.61" y="101.83" width="1.55" height="1.55" fill="#9e1b33"/>
<rect x="75.28" y="89.78" width="1.55" height="1.55" fill="#9e1b33"/>
<rect x="75.74" y="100.59" width="1.55" height="1.55" fill="#9e1b33"/>
<rect x="74.70" y="95.04" width="1.55" height="1.55" fill="#9e1b33"/>
<rect x="73.15" y="91.15" width="1.55" height="1.55" fill="#9e1b33"/>
<rect x="73.52" y="90.42" width="1.55" height="1.55" fill="#9e1b33"/>
<rect x="78.50" y="96.42" width="1.55" height="1.55" fill="#9e1b33"/>
<rect x="74.77" y="87.02" width="1.55" height="1.55" fill="#9e1b33"/>
<rect x="79.19" y="96.04" width="1.55" height="1.55" fill="#9e1b33"/>
<rect x="74.52" y="88.23" width="1.55" height="1.55" fill="#9e1b33"/>
<rect x="74.91" y="83.28" width="1.55" height="1.55" fill="#9e1b33"/>
<rect x="76.30" y="94.52" width="1.55" height="1.55" fill="#9e1b33"/>
<rect x="74.12" y="90.24" width="1.55" height="1.55" fill="#9e1b33"/>
<rect x="75.36" y="89.11" width="1.55" height="1.55" fill="#9e1b33"/>
<rect x="79.33" y="84.68" width="1.55" height="1.55" fill="#9e1b33"/>
<rect x="77.62" y="81.92" width="1.55" height="1.55" fill="#9e1b33"/>
<rect x="78.35" y="90.55" width="1.55" height="1.55" fill="#9e1b33"/>
<rect x="77.12" y="94.52" width="1.55" height="1.55" fill="#9e1b33"/>
<rect x="79.04" y="84.50" width="1.55" height="1.55" fill="#9e1b33"/>
<rect x="79.22" y="94.43" width="1.55" height="1.55" fill="#9e1b33"/>
<rect x="76.56" y="95.89" width="1.55" height="1.55" fill="#9e1b33"/>
<rect x="77.72" y="94.40" width="1.55" height="1.55" fill="#9e1b33"/>
<rect x="73.16" y="92.50" width="1.55" height="1.55" fill="#9e1b33"/>
<rect x="76.61" y="77.06" width="1.55" height="1.55" fill="#9e1b33"/>
<rect x="75.89" y="90.32" width="1.55" height="1.55" fill="#9e1b33"/>
<rect x="77.94" y="95.59" width="1.55" height="1.55" fill="#9e1b33"/>
<rect x="77.21" y="97.06" width="1.55" height="1.55" fill="#9e1b33"/>
<rect x="74.77" y="86.26" width="1.55" height="1.55" fill="#9e1b33"/>
<rect x="73.16" y="94.00" width="1.55" height="1.55" fill="#9e1b33"/>
<rect x="79.13" y="84.50" width="1.55" height="1.55" fill="#9e1b33"/>
<rect x="73.69" y="99.04" width="1.55" height="1.55" fill="#9e1b33"/>
<rect x="76.04" y="90.61" width="1.55" height="1.55" fill="#9e1b33"/>
<rect x="75.16" y="87.56" width="1.55" height="1.55" fill="#9e1b33"/>
<rect x="74.85" y="92.71" width="1.55" height="1.55" fill="#9e1b33"/>
<rect x="77.85" y="87.69" width="1.55" height="1.55" fill="#9e1b33"/>
<rect x="79.46" y="95.27" width="1.55" height="1.55" fill="#9e1b33"/>
<rect x="74.59" y="93.83" width="1.55" height="1.55" fill="#9e1b33"/>
<rect x="77.29" y="94.17" width="1.55" height="1.55" fill="#9e1b33"/>
<rect x="74.87" y="90.20" width="1.55" height="1.55" fill="#9e1b33"/>
<rect x="76.61" y="87.28" width="1.55" height="1.55" fill="#9e1b33"/>
<rect x="75.51" y="94.38" width="1.55" height="1.55" fill="#9e1b33"/>
<rect x="73.96" y="98.65" width="1.55" height="1.55" fill="#9e1b33"/>
<rect x="73.92" y="89.73" width="1.55" height="1.55" fill="#9e1b33"/>
<rect x="74.24" y="86.89" width="1.55" height="1.55" fill="#9e1b33"/>
<rect x="78.99" y="94.87" width="1.55" height="1.55" fill="#9e1b33"/>
<rect x="76.21" y="85.98" width="1.55" height="1.55" fill="#9e1b33"/>
<rect x="74.32" y="94.83" width="1.55" height="1.55" fill="#9e1b33"/>
<rect x="78.99" y="98.19" width="1.55" height="1.55" fill="#9e1b33"/>
<rect x="79.60" y="92.95" width="1.55" height="1.55" fill="#9e1b33"/>
<rect x="75.88" y="85.74" width="1.55" height="1.55" fill="#9e1b33"/>
<rect x="73.77" y="90.93" width="1.55" height="1.55" fill="#9e1b33"/>
<rect x="74.13" y="91.42" width="1.55" height="1.55" fill="#9e1b33"/>
<rect x="73.44" y="91.18" width="1.55" height="1.55" fill="#9e1b33"/>
<rect x="75.15" y="90.60" width="1.55" height="1.55" fill="#9e1b33"/>
<rect x="73.44" y="94.85" width="1.55" height="1.55" fill="#9e1b33"/>
<rect x="74.45" y="100.34" width="1.55" height="1.55" fill="#9e1b33"/>
<rect x="74.58" y="90.16" width="1.55" height="1.55" fill="#9e1b33"/>
<rect x="76.70" y="96.20" width="1.55" height="1.55" fill="#9e1b33"/>
<rect x="78.86" y="93.32" width="1.55" height="1.55" fill="#9e1b33"/>
<rect x="77.92" y="98.58" width="1.55" height="1.55" fill="#9e1b33"/>
<rect x="75.63" y="92.43" width="1.55" height="1.55" fill="#9e1b33"/>
<rect x="75.64" y="91.07" width="1.55" height="1.55" fill="#9e1b33"/>
<rect x="76.39" y="94.17" width="1.55" height="1.55" fill="#9e1b33"/>
<rect x="75.39" y="95.49" width="1.55" height="1.55" fill="#9e1b33"/>
<rect x="75.12" y="93.16" width="1.55" height="1.55" fill="#9e1b33"/>
<rect x="73.25" y="93.22" width="1.55" height="1.55" fill="#9e1b33"/>
<rect x="74.97" y="82.30" width="1.55" height="1.55" fill="#9e1b33"/>
<rect x="79.41" y="98.68" width="1.55" height="1.55" fill="#9e1b33"/>
<rect x="73.68" y="91.97" width="1.55" height="1.55" fill="#9e1b33"/>
<rect x="76.25" y="90.86" width="1.55" height="1.55" fill="#9e1b33"/>
<rect x="77.11" y="98.72" width="1.55" height="1.55" fill="#9e1b33"/>
<rect x="78.69" y="88.98" width="1.55" height="1.55" fill="#9e1b33"/>
<rect x="74.29" y="98.21" width="1.55" height="1.55" fill="#9e1b33"/>
<rect x="75.69" y="109.15" width="1.55" height="1.55" fill="#9e1b33"/>
<rect x="75.48" y="114.73" width="1.55" height="1.55" fill="#9e1b33"/>
<rect x="75.93" y="112.85" width="1.55" height="1.55" fill="#9e1b33"/>
<rect x="76.06" y="114.13" width="1.55" height="1.55" fill="#9e1b33"/>
<rect x="77.28" y="103.37" width="1.55" height="1.55" fill="#9e1b33"/>
<rect x="77.03" y="108.99" width="1.55" height="1.55" fill="#9e1b33"/>
<rect x="76.84" y="42.13" width="1.55" height="1.55" fill="#9e1b33"/>
<rect x="75.12" y="49.46" width="1.55" height="1.55" fill="#9e1b33"/>
<rect x="75.14" y="50.69" width="1.55" height="1.55" fill="#9e1b33"/>
<rect x="76.57" y="59.24" width="1.55" height="1.55" fill="#9e1b33"/>
<rect x="76.88" y="61.68" width="1.55" height="1.55" fill="#9e1b33"/>
<rect x="76.18" y="67.79" width="1.55" height="1.55" fill="#9e1b33"/>
<rect x="76.37" y="71.46" width="1.55" height="1.55" fill="#9e1b33"/>
<rect x="88.60" y="34.80" width="1.55" height="1.55" fill="#9e1b33"/>
<rect x="89.61" y="40.91" width="1.55" height="1.55" fill="#9e1b33"/>
<rect x="91.54" y="42.13" width="1.55" height="1.55" fill="#9e1b33"/>
<rect x="90.91" y="71.46" width="1.55" height="1.55" fill="#9e1b33"/>
<rect x="91.28" y="73.91" width="1.55" height="1.55" fill="#9e1b33"/>
<rect x="91.32" y="77.57" width="1.55" height="1.55" fill="#9e1b33"/>
<rect x="89.30" y="80.02" width="1.55" height="1.55" fill="#9e1b33"/>
<rect x="88.91" y="83.68" width="1.55" height="1.55" fill="#9e1b33"/>
<rect x="89.03" y="86.12" width="1.55" height="1.55" fill="#9e1b33"/>
<rect x="90.06" y="88.57" width="1.55" height="1.55" fill="#9e1b33"/>
<rect x="90.66" y="91.01" width="1.55" height="1.55" fill="#9e1b33"/>
<rect x="91.94" y="92.23" width="1.55" height="1.55" fill="#9e1b33"/>
<rect x="90.98" y="93.46" width="1.55" height="1.55" fill="#9e1b33"/>
<rect x="90.65" y="94.68" width="1.55" height="1.55" fill="#9e1b33"/>
<rect x="90.95" y="95.90" width="1.55" height="1.55" fill="#9e1b33"/>
<rect x="89.88" y="98.34" width="1.55" height="1.55" fill="#9e1b33"/>
<rect x="90.14" y="100.79" width="1.55" height="1.55" fill="#9e1b33"/>
<rect x="88.71" y="103.23" width="1.55" height="1.55" fill="#9e1b33"/>
<rect x="90.79" y="105.68" width="1.55" height="1.55" fill="#9e1b33"/>
<rect x="89.25" y="110.56" width="1.55" height="1.55" fill="#9e1b33"/>
<rect x="91.18" y="114.23" width="1.55" height="1.55" fill="#9e1b33"/>
<rect x="90.41" y="120.34" width="1.55" height="1.55" fill="#9e1b33"/>
<rect x="89.45" y="127.67" width="1.55" height="1.55" fill="#9e1b33"/>
<rect x="88.96" y="130.12" width="1.55" height="1.55" fill="#9e1b33"/>
<rect x="89.11" y="132.56" width="1.55" height="1.55" fill="#9e1b33"/>
<rect x="90.60" y="133.78" width="1.55" height="1.55" fill="#9e1b33"/>
<rect x="90.71" y="135.00" width="1.55" height="1.55" fill="#9e1b33"/>
<rect x="88.91" y="137.45" width="1.55" height="1.55" fill="#9e1b33"/>
<rect x="88.80" y="122.78" width="1.55" height="1.55" fill="#9e1b33"/>
<rect x="90.07" y="125.23" width="1.55" height="1.55" fill="#9e1b33"/>
<rect x="90.23" y="116.67" width="1.55" height="1.55" fill="#9e1b33"/>
<rect x="89.60" y="73.91" width="1.55" height="1.55" fill="#9e1b33"/>
<rect x="102.78" y="27.47" width="1.55" height="1.55" fill="#9e1b33"/>
<rect x="104.14" y="28.08" width="1.55" height="1.55" fill="#9e1b33"/>
<rect x="102.40" y="40.91" width="1.55" height="1.55" fill="#9e1b33"/>
<rect x="103.22" y="45.80" width="1.55" height="1.55" fill="#9e1b33"/>
<rect x="103.66" y="67.79" width="1.55" height="1.55" fill="#9e1b33"/>
<rect x="105.06" y="80.02" width="1.55" height="1.55" fill="#9e1b33"/>
<rect x="104.53" y="82.46" width="1.55" height="1.55" fill="#9e1b33"/>
<rect x="106.08" y="83.68" width="1.55" height="1.55" fill="#9e1b33"/>
<rect x="103.63" y="84.90" width="1.55" height="1.55" fill="#9e1b33"/>
<rect x="102.40" y="86.12" width="1.55" height="1.55" fill="#9e1b33"/>
<rect x="102.46" y="86.12" width="1.55" height="1.55" fill="#9e1b33"/>
<rect x="106.54" y="87.35" width="1.55" height="1.55" fill="#9e1b33"/>
<rect x="104.84" y="88.57" width="1.55" height="1.55" fill="#9e1b33"/>
<rect x="102.77" y="88.57" width="1.55" height="1.55" fill="#9e1b33"/>
<rect x="100.91" y="89.79" width="1.55" height="1.55" fill="#9e1b33"/>
<rect x="103.77" y="91.01" width="1.55" height="1.55" fill="#9e1b33"/>
<rect x="104.68" y="91.01" width="1.55" height="1.55" fill="#9e1b33"/>
<rect x="103.36" y="92.23" width="1.55" height="1.55" fill="#9e1b33"/>
<rect x="102.71" y="93.46" width="1.55" height="1.55" fill="#9e1b33"/>
<rect x="104.51" y="94.68" width="1.55" height="1.55" fill="#9e1b33"/>
<rect x="105.65" y="95.90" width="1.55" height="1.55" fill="#9e1b33"/>
<rect x="102.57" y="97.12" width="1.55" height="1.55" fill="#9e1b33"/>
<rect x="102.10" y="98.34" width="1.55" height="1.55" fill="#9e1b33"/>
<rect x="103.32" y="100.79" width="1.55" height="1.55" fill="#9e1b33"/>
<rect x="103.55" y="103.23" width="1.55" height="1.55" fill="#9e1b33"/>
<rect x="104.29" y="126.45" width="1.55" height="1.55" fill="#9e1b33"/>
<rect x="102.93" y="132.56" width="1.55" height="1.55" fill="#9e1b33"/>
<rect x="104.61" y="135.00" width="1.55" height="1.55" fill="#9e1b33"/>
<rect x="105.02" y="82.46" width="1.55" height="1.55" fill="#9e1b33"/>
<rect x="103.80" y="83.68" width="1.55" height="1.55" fill="#9e1b33"/>
<rect x="116.72" y="79.40" width="1.55" height="1.55" fill="#9e1b33"/>
<rect x="119.24" y="82.46" width="1.55" height="1.55" fill="#9e1b33"/>
<rect x="116.72" y="84.54" width="1.55" height="1.55" fill="#9e1b33"/>
<rect x="118.96" y="86.12" width="1.55" height="1.55" fill="#9e1b33"/>
<rect x="116.37" y="87.35" width="1.55" height="1.55" fill="#9e1b33"/>
<rect x="116.32" y="89.67" width="1.55" height="1.55" fill="#9e1b33"/>
<rect x="118.70" y="91.01" width="1.55" height="1.55" fill="#9e1b33"/>
<rect x="116.65" y="93.46" width="1.55" height="1.55" fill="#9e1b33"/>
<rect x="119.54" y="95.78" width="1.55" height="1.55" fill="#9e1b33"/>
<rect x="117.53" y="97.12" width="1.55" height="1.55" fill="#9e1b33"/>
<rect x="116.42" y="98.34" width="1.55" height="1.55" fill="#9e1b33"/>
<rect x="116.55" y="100.79" width="1.55" height="1.55" fill="#9e1b33"/>
<rect x="117.18" y="102.01" width="1.55" height="1.55" fill="#9e1b33"/>
<rect x="118.28" y="103.23" width="1.55" height="1.55" fill="#9e1b33"/>
<rect x="119.17" y="104.45" width="1.55" height="1.55" fill="#9e1b33"/>
<rect x="116.28" y="106.90" width="1.55" height="1.55" fill="#9e1b33"/>
<rect x="117.08" y="107.02" width="1.55" height="1.55" fill="#9e1b33"/>
<rect x="116.29" y="109.34" width="1.55" height="1.55" fill="#9e1b33"/>
<rect x="119.26" y="110.56" width="1.55" height="1.55" fill="#9e1b33"/>
<rect x="116.26" y="113.13" width="1.55" height="1.55" fill="#9e1b33"/>
<rect x="115.94" y="115.45" width="1.55" height="1.55" fill="#9e1b33"/>
<rect x="116.32" y="119.24" width="1.55" height="1.55" fill="#9e1b33"/>
<rect x="117.25" y="122.78" width="1.55" height="1.55" fill="#9e1b33"/>
<rect x="118.66" y="126.33" width="1.55" height="1.55" fill="#9e1b33"/>
<rect x="118.62" y="128.90" width="1.55" height="1.55" fill="#9e1b33"/>
<rect x="118.20" y="132.56" width="1.55" height="1.55" fill="#9e1b33"/>
<rect x="119.74" y="92.23" width="1.55" height="1.55" fill="#9e1b33"/>
<rect x="129.63" y="25.27" width="1.55" height="1.55" fill="#9e1b33"/>
<rect x="132.43" y="25.27" width="1.55" height="1.55" fill="#9e1b33"/>
<rect x="132.43" y="28.81" width="1.55" height="1.55" fill="#9e1b33"/>
<rect x="132.43" y="32.60" width="1.55" height="1.55" fill="#9e1b33"/>
<rect x="129.63" y="35.78" width="1.55" height="1.55" fill="#9e1b33"/>
<rect x="129.63" y="38.47" width="1.55" height="1.55" fill="#9e1b33"/>
<rect x="132.43" y="37.86" width="1.55" height="1.55" fill="#9e1b33"/>
<rect x="129.63" y="41.77" width="1.55" height="1.55" fill="#9e1b33"/>
<rect x="132.43" y="43.48" width="1.55" height="1.55" fill="#9e1b33"/>
<rect x="134.26" y="90.15" width="1.55" height="1.55" fill="#9e1b33"/>
<rect x="130.16" y="75.21" width="1.55" height="1.55" fill="#9e1b33"/>
<rect x="129.94" y="104.09" width="1.55" height="1.55" fill="#9e1b33"/>
<rect x="134.29" y="90.45" width="1.55" height="1.55" fill="#9e1b33"/>
<rect x="132.61" y="78.86" width="1.55" height="1.55" fill="#9e1b33"/>
<rect x="128.52" y="74.44" width="1.55" height="1.55" fill="#9e1b33"/>
<rect x="132.18" y="95.51" width="1.55" height="1.55" fill="#9e1b33"/>
<rect x="130.50" y="86.95" width="1.55" height="1.55" fill="#9e1b33"/>
<rect x="130.47" y="86.48" width="1.55" height="1.55" fill="#9e1b33"/>
<rect x="130.18" y="92.89" width="1.55" height="1.55" fill="#9e1b33"/>
<rect x="129.08" y="88.61" width="1.55" height="1.55" fill="#9e1b33"/>
<rect x="127.94" y="89.60" width="1.55" height="1.55" fill="#9e1b33"/>
<rect x="129.83" y="86.46" width="1.55" height="1.55" fill="#9e1b33"/>
<rect x="130.55" y="97.05" width="1.55" height="1.55" fill="#9e1b33"/>
<rect x="133.33" y="102.89" width="1.55" height="1.55" fill="#9e1b33"/>
<rect x="128.77" y="85.84" width="1.55" height="1.55" fill="#9e1b33"/>
<rect x="134.48" y="92.78" width="1.55" height="1.55" fill="#9e1b33"/>
<rect x="129.34" y="92.45" width="1.55" height="1.55" fill="#9e1b33"/>
<rect x="130.69" y="102.08" width="1.55" height="1.55" fill="#9e1b33"/>
<rect x="133.00" y="78.76" width="1.55" height="1.55" fill="#9e1b33"/>
<rect x="133.26" y="75.93" width="1.55" height="1.55" fill="#9e1b33"/>
<rect x="130.92" y="83.89" width="1.55" height="1.55" fill="#9e1b33"/>
<rect x="128.26" y="91.01" width="1.55" height="1.55" fill="#9e1b33"/>
<rect x="131.23" y="81.55" width="1.55" height="1.55" fill="#9e1b33"/>
<rect x="130.46" y="92.33" width="1.55" height="1.55" fill="#9e1b33"/>
<rect x="134.18" y="87.72" width="1.55" height="1.55" fill="#9e1b33"/>
<rect x="129.24" y="87.28" width="1.55" height="1.55" fill="#9e1b33"/>
<rect x="130.40" y="94.20" width="1.55" height="1.55" fill="#9e1b33"/>
<rect x="132.75" y="99.15" width="1.55" height="1.55" fill="#9e1b33"/>
<rect x="128.13" y="85.50" width="1.55" height="1.55" fill="#9e1b33"/>
<rect x="130.72" y="92.79" width="1.55" height="1.55" fill="#9e1b33"/>
<rect x="133.45" y="85.01" width="1.55" height="1.55" fill="#9e1b33"/>
<rect x="132.71" y="95.50" width="1.55" height="1.55" fill="#9e1b33"/>
<rect x="128.20" y="77.35" width="1.55" height="1.55" fill="#9e1b33"/>
<rect x="128.91" y="79.00" width="1.55" height="1.55" fill="#9e1b33"/>
<rect x="128.35" y="88.46" width="1.55" height="1.55" fill="#9e1b33"/>
<rect x="134.18" y="91.31" width="1.55" height="1.55" fill="#9e1b33"/>
<rect x="129.67" y="89.19" width="1.55" height="1.55" fill="#9e1b33"/>
<rect x="132.61" y="73.29" width="1.55" height="1.55" fill="#9e1b33"/>
<rect x="133.72" y="73.91" width="1.55" height="1.55" fill="#9e1b33"/>
<rect x="130.87" y="116.67" width="1.55" height="1.55" fill="#9e1b33"/>
<rect x="130.69" y="114.23" width="1.55" height="1.55" fill="#9e1b33"/>
<rect x="132.61" y="110.56" width="1.55" height="1.55" fill="#9e1b33"/>
<rect x="145.43" y="29.91" width="1.55" height="1.55" fill="#9e1b33"/>
<rect x="144.43" y="42.74" width="1.55" height="1.55" fill="#9e1b33"/>
<rect x="145.88" y="76.35" width="1.55" height="1.55" fill="#9e1b33"/>
<rect x="144.44" y="77.57" width="1.55" height="1.55" fill="#9e1b33"/>
<rect x="144.47" y="80.02" width="1.55" height="1.55" fill="#9e1b33"/>
<rect x="143.31" y="83.68" width="1.55" height="1.55" fill="#9e1b33"/>
<rect x="146.02" y="87.35" width="1.55" height="1.55" fill="#9e1b33"/>
<rect x="146.27" y="89.79" width="1.55" height="1.55" fill="#9e1b33"/>
<rect x="145.58" y="92.23" width="1.55" height="1.55" fill="#9e1b33"/>
<rect x="146.70" y="82.46" width="1.55" height="1.55" fill="#9e1b33"/>
<rect x="143.39" y="86.12" width="1.55" height="1.55" fill="#9e1b33"/>
<rect x="143.29" y="103.72" width="1.55" height="1.55" fill="#9e1b33"/>
<rect x="144.93" y="95.57" width="1.55" height="1.55" fill="#9e1b33"/>
<rect x="148.21" y="102.34" width="1.55" height="1.55" fill="#9e1b33"/>
<rect x="148.19" y="100.91" width="1.55" height="1.55" fill="#9e1b33"/>
<rect x="144.33" y="101.49" width="1.55" height="1.55" fill="#9e1b33"/>
<rect x="143.41" y="98.81" width="1.55" height="1.55" fill="#9e1b33"/>
<rect x="144.62" y="101.14" width="1.55" height="1.55" fill="#9e1b33"/>
<rect x="145.06" y="100.91" width="1.55" height="1.55" fill="#9e1b33"/>
<rect x="148.01" y="99.58" width="1.55" height="1.55" fill="#9e1b33"/>
<rect x="142.94" y="100.17" width="1.55" height="1.55" fill="#9e1b33"/>
<rect x="147.16" y="104.13" width="1.55" height="1.55" fill="#9e1b33"/>
<rect x="146.72" y="97.71" width="1.55" height="1.55" fill="#9e1b33"/>
<rect x="147.29" y="97.53" width="1.55" height="1.55" fill="#9e1b33"/>
<rect x="146.96" y="94.08" width="1.55" height="1.55" fill="#9e1b33"/>
<rect x="145.74" y="104.97" width="1.55" height="1.55" fill="#9e1b33"/>
<rect x="143.93" y="100.92" width="1.55" height="1.55" fill="#9e1b33"/>
<rect x="143.87" y="98.36" width="1.55" height="1.55" fill="#9e1b33"/>
<rect x="144.16" y="95.93" width="1.55" height="1.55" fill="#9e1b33"/>
<rect x="147.02" y="103.49" width="1.55" height="1.55" fill="#9e1b33"/>
<rect x="142.24" y="101.36" width="1.55" height="1.55" fill="#9e1b33"/>
<rect x="143.04" y="102.55" width="1.55" height="1.55" fill="#9e1b33"/>
<rect x="146.62" y="94.68" width="1.55" height="1.55" fill="#9e1b33"/>
<rect x="143.38" y="98.48" width="1.55" height="1.55" fill="#9e1b33"/>
<rect x="142.14" y="102.27" width="1.55" height="1.55" fill="#9e1b33"/>
<rect x="141.93" y="100.04" width="1.55" height="1.55" fill="#9e1b33"/>
<rect x="145.46" y="95.17" width="1.55" height="1.55" fill="#9e1b33"/>
<rect x="144.47" y="110.56" width="1.55" height="1.55" fill="#9e1b33"/>
<rect x="147.21" y="111.79" width="1.55" height="1.55" fill="#9e1b33"/>
<rect x="146.48" y="114.23" width="1.55" height="1.55" fill="#9e1b33"/>
<rect x="146.86" y="116.67" width="1.55" height="1.55" fill="#9e1b33"/>
<rect x="144.25" y="120.34" width="1.55" height="1.55" fill="#9e1b33"/>
<rect x="143.60" y="122.78" width="1.55" height="1.55" fill="#9e1b33"/>
<rect x="143.97" y="125.23" width="1.55" height="1.55" fill="#9e1b33"/>
<rect x="145.10" y="127.67" width="1.55" height="1.55" fill="#9e1b33"/>
<rect x="146.02" y="113.01" width="1.55" height="1.55" fill="#9e1b33"/>
<rect x="144.91" y="117.90" width="1.55" height="1.55" fill="#9e1b33"/>
<rect x="143.93" y="121.56" width="1.55" height="1.55" fill="#9e1b33"/>
<rect x="158.58" y="83.68" width="1.55" height="1.55" fill="#9e1b33"/>
<rect x="159.50" y="84.90" width="1.55" height="1.55" fill="#9e1b33"/>
<rect x="159.78" y="86.12" width="1.55" height="1.55" fill="#9e1b33"/>
<rect x="160.16" y="87.35" width="1.55" height="1.55" fill="#9e1b33"/>
<rect x="160.40" y="88.57" width="1.55" height="1.55" fill="#9e1b33"/>
<rect x="159.73" y="89.79" width="1.55" height="1.55" fill="#9e1b33"/>
<rect x="156.91" y="91.01" width="1.55" height="1.55" fill="#9e1b33"/>
<rect x="160.65" y="92.23" width="1.55" height="1.55" fill="#9e1b33"/>
<rect x="157.97" y="93.46" width="1.55" height="1.55" fill="#9e1b33"/>
<rect x="159.17" y="94.68" width="1.55" height="1.55" fill="#9e1b33"/>
<rect x="158.32" y="95.90" width="1.55" height="1.55" fill="#9e1b33"/>
<rect x="159.92" y="97.12" width="1.55" height="1.55" fill="#9e1b33"/>
<rect x="157.55" y="98.34" width="1.55" height="1.55" fill="#9e1b33"/>
<rect x="157.76" y="99.57" width="1.55" height="1.55" fill="#9e1b33"/>
<rect x="157.75" y="100.79" width="1.55" height="1.55" fill="#9e1b33"/>
<rect x="157.35" y="102.01" width="1.55" height="1.55" fill="#9e1b33"/>
<rect x="160.26" y="103.23" width="1.55" height="1.55" fill="#9e1b33"/>
<rect x="159.09" y="105.68" width="1.55" height="1.55" fill="#9e1b33"/>
<rect x="158.39" y="108.12" width="1.55" height="1.55" fill="#9e1b33"/>
<rect x="158.58" y="110.56" width="1.55" height="1.55" fill="#9e1b33"/>
<rect x="160.25" y="116.67" width="1.55" height="1.55" fill="#9e1b33"/>
<rect x="158.90" y="122.78" width="1.55" height="1.55" fill="#9e1b33"/>
<rect x="158.12" y="125.23" width="1.55" height="1.55" fill="#9e1b33"/>
<rect x="160.48" y="86.12" width="1.55" height="1.55" fill="#9e1b33"/>
<rect x="159.67" y="91.01" width="1.55" height="1.55" fill="#9e1b33"/>
<rect x="174.02" y="78.79" width="1.55" height="1.55" fill="#9e1b33"/>
<rect x="171.54" y="83.68" width="1.55" height="1.55" fill="#9e1b33"/>
<rect x="172.56" y="86.12" width="1.55" height="1.55" fill="#9e1b33"/>
<rect x="174.05" y="88.57" width="1.55" height="1.55" fill="#9e1b33"/>
<rect x="173.88" y="89.79" width="1.55" height="1.55" fill="#9e1b33"/>
<rect x="174.14" y="92.23" width="1.55" height="1.55" fill="#9e1b33"/>
<rect x="171.00" y="93.46" width="1.55" height="1.55" fill="#9e1b33"/>
<rect x="171.91" y="95.90" width="1.55" height="1.55" fill="#9e1b33"/>
<rect x="171.28" y="98.34" width="1.55" height="1.55" fill="#9e1b33"/>
<rect x="171.78" y="100.79" width="1.55" height="1.55" fill="#9e1b33"/>
<rect x="173.97" y="103.23" width="1.55" height="1.55" fill="#9e1b33"/>
<rect x="172.88" y="105.68" width="1.55" height="1.55" fill="#9e1b33"/>
<rect x="173.85" y="108.12" width="1.55" height="1.55" fill="#9e1b33"/>
<rect x="172.29" y="110.56" width="1.55" height="1.55" fill="#9e1b33"/>
<rect x="173.68" y="116.67" width="1.55" height="1.55" fill="#9e1b33"/>
<rect x="172.51" y="122.78" width="1.55" height="1.55" fill="#9e1b33"/>
<rect x="171.98" y="131.34" width="1.55" height="1.55" fill="#9e1b33"/>
<rect x="173.87" y="87.35" width="1.55" height="1.55" fill="#9e1b33"/>
<rect x="174.61" y="97.12" width="1.55" height="1.55" fill="#9e1b33"/>
<rect x="185.01" y="29.91" width="1.55" height="1.55" fill="#9e1b33"/>
<rect x="186.85" y="31.13" width="1.55" height="1.55" fill="#9e1b33"/>
<rect x="187.05" y="32.36" width="1.55" height="1.55" fill="#9e1b33"/>
<rect x="185.18" y="33.58" width="1.55" height="1.55" fill="#9e1b33"/>
<rect x="185.85" y="33.58" width="1.55" height="1.55" fill="#9e1b33"/>
<rect x="185.42" y="39.69" width="1.55" height="1.55" fill="#9e1b33"/>
<rect x="185.60" y="47.02" width="1.55" height="1.55" fill="#9e1b33"/>
<rect x="185.74" y="75.62" width="1.55" height="1.55" fill="#9e1b33"/>
<rect x="186.78" y="98.96" width="1.55" height="1.55" fill="#9e1b33"/>
<rect x="186.97" y="100.79" width="1.55" height="1.55" fill="#9e1b33"/>
<rect x="185.36" y="109.83" width="1.55" height="1.55" fill="#9e1b33"/>
<rect x="184.67" y="111.91" width="1.55" height="1.55" fill="#9e1b33"/>
<rect x="185.94" y="117.90" width="1.55" height="1.55" fill="#9e1b33"/>
<rect x="186.92" y="123.76" width="1.55" height="1.55" fill="#9e1b33"/>
<rect x="185.54" y="132.56" width="1.55" height="1.55" fill="#9e1b33"/>
<rect x="199.67" y="37.24" width="1.55" height="1.55" fill="#9e1b33"/>
<rect x="199.37" y="42.13" width="1.55" height="1.55" fill="#9e1b33"/>
<rect x="201.26" y="70.24" width="1.55" height="1.55" fill="#9e1b33"/>
<rect x="200.37" y="72.07" width="1.55" height="1.55" fill="#9e1b33"/>
<rect x="198.98" y="90.65" width="1.55" height="1.55" fill="#9e1b33"/>
<rect x="199.08" y="98.34" width="1.55" height="1.55" fill="#9e1b33"/>
<rect x="199.82" y="102.01" width="1.55" height="1.55" fill="#9e1b33"/>
<rect x="200.38" y="103.23" width="1.55" height="1.55" fill="#9e1b33"/>
<rect x="200.59" y="105.68" width="1.55" height="1.55" fill="#9e1b33"/>
<rect x="199.06" y="110.56" width="1.55" height="1.55" fill="#9e1b33"/>
<rect x="199.26" y="114.23" width="1.55" height="1.55" fill="#9e1b33"/>
<rect x="200.75" y="120.34" width="1.55" height="1.55" fill="#9e1b33"/>
<rect x="199.95" y="128.90" width="1.55" height="1.55" fill="#9e1b33"/>
<rect x="199.59" y="133.78" width="1.55" height="1.55" fill="#9e1b33"/>
<rect x="199.66" y="136.23" width="1.55" height="1.55" fill="#9e1b33"/>
<rect x="215.24" y="73.54" width="1.55" height="1.55" fill="#9e1b33"/>
<rect x="213.45" y="86.37" width="1.55" height="1.55" fill="#9e1b33"/>
<rect x="214.16" y="91.01" width="1.55" height="1.55" fill="#9e1b33"/>
<rect x="213.58" y="94.68" width="1.55" height="1.55" fill="#9e1b33"/>
<rect x="213.74" y="102.01" width="1.55" height="1.55" fill="#9e1b33"/>
<rect x="214.99" y="104.45" width="1.55" height="1.55" fill="#9e1b33"/>
<rect x="215.37" y="110.56" width="1.55" height="1.55" fill="#9e1b33"/>
<rect x="213.59" y="135.00" width="1.55" height="1.55" fill="#9e1b33"/>
<rect x="226.90" y="64.25" width="1.55" height="1.55" fill="#9e1b33"/>
<rect x="228.57" y="94.68" width="1.55" height="1.55" fill="#9e1b33"/>
<rect x="226.68" y="95.90" width="1.55" height="1.55" fill="#9e1b33"/>
<rect x="226.37" y="102.01" width="1.55" height="1.55" fill="#9e1b33"/>
<rect x="228.87" y="104.45" width="1.55" height="1.55" fill="#9e1b33"/>
<rect x="227.54" y="106.90" width="1.55" height="1.55" fill="#9e1b33"/>
<rect x="228.65" y="110.56" width="1.55" height="1.55" fill="#9e1b33"/>
<rect x="227.49" y="113.01" width="1.55" height="1.55" fill="#9e1b33"/>
<rect x="242.60" y="82.21" width="1.55" height="1.55" fill="#9e1b33"/>
<rect x="241.38" y="91.01" width="1.55" height="1.55" fill="#9e1b33"/>
<rect x="240.31" y="92.23" width="1.55" height="1.55" fill="#9e1b33"/>
<rect x="240.17" y="95.90" width="1.55" height="1.55" fill="#9e1b33"/>
<rect x="255.49" y="28.69" width="1.55" height="1.55" fill="#9e1b33"/>
<rect x="255.81" y="29.30" width="1.55" height="1.55" fill="#9e1b33"/>
<rect x="256.78" y="63.76" width="1.55" height="1.55" fill="#9e1b33"/>
<rect x="253.82" y="64.13" width="1.55" height="1.55" fill="#9e1b33"/>
<rect x="255.64" y="82.46" width="1.55" height="1.55" fill="#9e1b33"/>
<rect x="254.84" y="98.34" width="1.55" height="1.55" fill="#9e1b33"/>
<rect x="255.32" y="99.57" width="1.55" height="1.55" fill="#9e1b33"/>
<rect x="254.03" y="103.23" width="1.55" height="1.55" fill="#9e1b33"/>
<rect x="254.52" y="104.45" width="1.55" height="1.55" fill="#9e1b33"/>
<rect x="255.36" y="133.78" width="1.55" height="1.55" fill="#9e1b33"/>
<rect x="270.61" y="85.76" width="1.55" height="1.55" fill="#9e1b33"/>
<rect x="267.67" y="87.71" width="1.55" height="1.55" fill="#9e1b33"/>
<rect x="269.05" y="92.85" width="1.55" height="1.55" fill="#9e1b33"/>
<rect x="269.93" y="95.90" width="1.55" height="1.55" fill="#9e1b33"/>
<rect x="270.38" y="110.20" width="1.55" height="1.55" fill="#9e1b33"/>
<rect x="268.23" y="132.68" width="1.55" height="1.55" fill="#9e1b33"/>
<rect x="281.80" y="91.38" width="1.55" height="1.55" fill="#9e1b33"/>
<rect x="284.09" y="96.88" width="1.55" height="1.55" fill="#9e1b33"/>
<rect x="284.18" y="99.44" width="1.55" height="1.55" fill="#9e1b33"/>
<rect x="282.80" y="115.33" width="1.55" height="1.55" fill="#9e1b33"/>
<rect x="281.60" y="125.11" width="1.55" height="1.55" fill="#9e1b33"/>
<rect x="297.82" y="80.14" width="1.55" height="1.55" fill="#9e1b33"/>
<rect x="296.13" y="89.79" width="1.55" height="1.55" fill="#9e1b33"/>
<rect x="298.40" y="91.87" width="1.55" height="1.55" fill="#9e1b33"/>
<rect x="297.15" y="91.01" width="1.55" height="1.55" fill="#9e1b33"/>
<rect x="311.57" y="76.10" width="1.55" height="1.55" fill="#9e1b33"/>
<rect x="309.18" y="76.10" width="1.55" height="1.55" fill="#9e1b33"/>
<rect x="311.20" y="90.77" width="1.55" height="1.55" fill="#9e1b33"/>
<rect x="309.62" y="95.17" width="1.55" height="1.55" fill="#9e1b33"/>
<rect x="310.13" y="108.24" width="1.55" height="1.55" fill="#9e1b33"/>
<rect x="311.37" y="113.38" width="1.55" height="1.55" fill="#9e1b33"/>
<rect x="325.10" y="86.37" width="1.55" height="1.55" fill="#9e1b33"/>
<rect x="323.29" y="101.03" width="1.55" height="1.55" fill="#9e1b33"/>
<rect x="323.39" y="104.09" width="1.55" height="1.55" fill="#9e1b33"/>
<rect x="323.89" y="111.18" width="1.55" height="1.55" fill="#9e1b33"/>
<rect x="338.00" y="83.19" width="1.55" height="1.55" fill="#9e1b33"/>
<rect x="337.62" y="94.92" width="1.55" height="1.55" fill="#9e1b33"/>
<rect x="336.89" y="97.98" width="1.55" height="1.55" fill="#9e1b33"/>
<rect x="337.24" y="102.62" width="1.55" height="1.55" fill="#9e1b33"/>
<rect x="338.58" y="111.18" width="1.55" height="1.55" fill="#9e1b33"/>
<rect x="352.84" y="73.42" width="1.55" height="1.55" fill="#9e1b33"/>
<rect x="350.44" y="91.26" width="1.55" height="1.55" fill="#9e1b33"/>
<rect x="351.90" y="108.24" width="1.55" height="1.55" fill="#9e1b33"/>
<rect x="352.45" y="129.26" width="1.55" height="1.55" fill="#9e1b33"/>
<rect x="364.21" y="86.37" width="1.55" height="1.55" fill="#9e1b33"/>
<rect x="366.45" y="94.56" width="1.55" height="1.55" fill="#9e1b33"/>
<rect x="378.20" y="112.28" width="1.55" height="1.55" fill="#9e1b33"/>
<rect x="379.55" y="117.90" width="1.55" height="1.55" fill="#9e1b33"/>
<rect x="379.42" y="120.34" width="1.55" height="1.55" fill="#9e1b33"/>
<rect x="379.63" y="127.67" width="1.55" height="1.55" fill="#9e1b33"/>
<rect x="392.51" y="25.02" width="1.55" height="1.55" fill="#9e1b33"/>
<rect x="392.83" y="37.98" width="1.55" height="1.55" fill="#9e1b33"/>
<rect x="393.28" y="116.67" width="1.55" height="1.55" fill="#9e1b33"/>
<rect x="392.84" y="125.47" width="1.55" height="1.55" fill="#9e1b33"/>
<rect x="407.27" y="82.83" width="1.55" height="1.55" fill="#9e1b33"/>
<rect x="406.68" y="91.62" width="1.55" height="1.55" fill="#9e1b33"/>
<rect x="406.65" y="112.28" width="1.55" height="1.55" fill="#9e1b33"/>
<rect x="418.88" y="96.51" width="1.55" height="1.55" fill="#9e1b33"/>
<rect x="421.03" y="98.34" width="1.55" height="1.55" fill="#9e1b33"/>
<rect x="434.35" y="39.81" width="1.55" height="1.55" fill="#9e1b33"/>
<rect x="433.63" y="90.77" width="1.55" height="1.55" fill="#9e1b33"/>
<rect x="435.11" y="97.12" width="1.55" height="1.55" fill="#9e1b33"/>
<rect x="435.16" y="107.27" width="1.55" height="1.55" fill="#9e1b33"/>
<rect x="448.03" y="56.92" width="1.55" height="1.55" fill="#9e1b33"/>
<rect x="447.25" y="89.06" width="1.55" height="1.55" fill="#9e1b33"/>
<rect x="448.08" y="102.87" width="1.55" height="1.55" fill="#9e1b33"/>
<rect x="447.05" y="128.53" width="1.55" height="1.55" fill="#9e1b33"/>
<rect x="460.88" y="25.02" width="1.55" height="1.55" fill="#9e1b33"/>
<rect x="461.73" y="86.49" width="1.55" height="1.55" fill="#9e1b33"/>
<rect x="460.78" y="94.68" width="1.55" height="1.55" fill="#9e1b33"/>
<rect x="461.76" y="136.47" width="1.55" height="1.55" fill="#9e1b33"/>
<text x="7.20" y="222.80" font-size="10.6" text-anchor="start" fill="#231f20" textLength="6.40" lengthAdjust="spacingAndGlyphs">B</text>
<rect x="40.40" y="283.30" width="43.95" height="36.60" fill="#ebe4e5"/>
<rect x="40.40" y="288.42" width="37.80" height="31.48" fill="#cbc2c4"/>
<line x1="40.40" y1="319.90" x2="124.34" y2="249.99" stroke="#7a7a7a" stroke-width="1.0"/>
<circle cx="73.10" cy="256.30" r="2.05" fill="#2e4e80"/>
<circle cx="68.10" cy="275.20" r="2.05" fill="#2e4e80"/>
<circle cx="70.80" cy="275.20" r="2.05" fill="#2e4e80"/>
<circle cx="56.70" cy="281.30" r="2.05" fill="#2e4e80"/>
<circle cx="75.00" cy="281.00" r="2.05" fill="#2e4e80"/>
<circle cx="77.70" cy="282.30" r="2.05" fill="#2e4e80"/>
<circle cx="67.30" cy="286.70" r="2.05" fill="#2e4e80"/>
<circle cx="66.30" cy="289.00" r="2.05" fill="#2e4e80"/>
<circle cx="61.00" cy="288.00" r="2.05" fill="#2e4e80"/>
<circle cx="57.70" cy="292.00" r="2.05" fill="#2e4e80"/>
<circle cx="83.80" cy="257.30" r="2.05" fill="#62a33f"/>
<circle cx="80.40" cy="277.70" r="2.05" fill="#62a33f"/>
<circle cx="81.90" cy="277.70" r="2.05" fill="#62a33f"/>
<circle cx="83.10" cy="281.70" r="2.05" fill="#62a33f"/>
<circle cx="80.40" cy="284.80" r="2.05" fill="#62a33f"/>
<circle cx="84.20" cy="287.30" r="2.05" fill="#62a33f"/>
<circle cx="76.50" cy="289.40" r="2.05" fill="#62a33f"/>
<circle cx="68.30" cy="293.80" r="2.05" fill="#62a33f"/>
<circle cx="90.80" cy="291.00" r="2.05" fill="#a51d36"/>
<circle cx="80.80" cy="292.90" r="2.05" fill="#a51d36"/>
<circle cx="85.80" cy="296.20" r="2.05" fill="#a51d36"/>
<circle cx="73.50" cy="297.70" r="2.05" fill="#a51d36"/>
<circle cx="76.00" cy="297.70" r="2.05" fill="#a51d36"/>
<circle cx="73.10" cy="305.40" r="2.05" fill="#a51d36"/>
<circle cx="56.70" cy="310.80" r="2.05" fill="#a51d36"/>
<circle cx="69.60" cy="312.70" r="2.05" fill="#a51d36"/>
<circle cx="76.00" cy="312.10" r="2.05" fill="#a51d36"/>
<circle cx="78.80" cy="315.00" r="2.05" fill="#a51d36"/>
<circle cx="84.60" cy="311.70" r="2.05" fill="#a51d36"/>
<circle cx="88.70" cy="309.20" r="2.05" fill="#a51d36"/>
<line x1="40.40" y1="244.20" x2="40.40" y2="320.50" stroke="#231f20" stroke-width="1.2"/>
<line x1="39.80" y1="319.90" x2="130.60" y2="319.90" stroke="#231f20" stroke-width="1.3"/>
<line x1="37.30" y1="319.90" x2="40.40" y2="319.90" stroke="#231f20" stroke-width="1.0"/>
<text x="34.40" y="322.00" font-size="5.8" text-anchor="end" fill="#231f20" stroke="#231f20" stroke-width="0.18">0</text>
<line x1="37.30" y1="301.60" x2="40.40" y2="301.60" stroke="#231f20" stroke-width="1.0"/>
<text x="34.40" y="303.70" font-size="5.8" text-anchor="end" fill="#231f20" stroke="#231f20" stroke-width="0.18">25</text>
<line x1="37.30" y1="283.30" x2="40.40" y2="283.30" stroke="#231f20" stroke-width="1.0"/>
<text x="34.40" y="285.40" font-size="5.8" text-anchor="end" fill="#231f20" stroke="#231f20" stroke-width="0.18">50</text>
<line x1="37.30" y1="265.00" x2="40.40" y2="265.00" stroke="#231f20" stroke-width="1.0"/>
<text x="34.40" y="267.10" font-size="5.8" text-anchor="end" fill="#231f20" stroke="#231f20" stroke-width="0.18">75</text>
<line x1="37.30" y1="246.70" x2="40.40" y2="246.70" stroke="#231f20" stroke-width="1.0"/>
<text x="34.40" y="248.80" font-size="5.8" text-anchor="end" fill="#231f20" stroke="#231f20" stroke-width="0.18">100</text>
<line x1="40.40" y1="319.90" x2="40.40" y2="322.50" stroke="#231f20" stroke-width="1.0"/>
<text x="43.90" y="329.10" font-size="5.6" text-anchor="end" fill="#231f20" stroke="#231f20" stroke-width="0.18" transform="rotate(-45 43.90 329.10)">0</text>
<line x1="62.38" y1="319.90" x2="62.38" y2="322.50" stroke="#231f20" stroke-width="1.0"/>
<text x="65.88" y="329.10" font-size="5.6" text-anchor="end" fill="#231f20" stroke="#231f20" stroke-width="0.18" transform="rotate(-45 65.88 329.10)">25</text>
<line x1="84.35" y1="319.90" x2="84.35" y2="322.50" stroke="#231f20" stroke-width="1.0"/>
<text x="87.85" y="329.10" font-size="5.6" text-anchor="end" fill="#231f20" stroke="#231f20" stroke-width="0.18" transform="rotate(-45 87.85 329.10)">50</text>
<line x1="106.32" y1="319.90" x2="106.32" y2="322.50" stroke="#231f20" stroke-width="1.0"/>
<text x="109.82" y="329.10" font-size="5.6" text-anchor="end" fill="#231f20" stroke="#231f20" stroke-width="0.18" transform="rotate(-45 109.82 329.10)">75</text>
<line x1="128.30" y1="319.90" x2="128.30" y2="322.50" stroke="#231f20" stroke-width="1.0"/>
<text x="131.80" y="329.10" font-size="5.6" text-anchor="end" fill="#231f20" stroke="#231f20" stroke-width="0.18" transform="rotate(-45 131.80 329.10)">100</text>
<text x="85.40" y="343.40" font-size="8.6" text-anchor="middle" fill="#231f20" stroke="#231f20" stroke-width="0.18" textLength="50.80" lengthAdjust="spacingAndGlyphs">ASXL1 VAF (%)</text>
<text x="18.50" y="281.95" font-size="8.6" text-anchor="middle" fill="#231f20" stroke="#231f20" stroke-width="0.18" transform="rotate(-90 18.50 281.95)" textLength="49.90" lengthAdjust="spacingAndGlyphs">CSF3R VAF (%)</text>
<circle cx="54.50" cy="216.10" r="2.1" fill="#62a33f"/>
<text x="59.30" y="217.90" font-size="5.1" text-anchor="start" fill="#231f20" textLength="55.10" lengthAdjust="spacingAndGlyphs">Unclear acquisition order</text>
<circle cx="54.50" cy="224.60" r="2.1" fill="#2e4e80"/>
<text x="59.30" y="226.40" font-size="5.1" text-anchor="start" fill="#231f20" textLength="23.19" lengthAdjust="spacingAndGlyphs">CSF3R first</text>
<circle cx="54.50" cy="233.10" r="2.1" fill="#a51d36"/>
<text x="59.30" y="234.90" font-size="5.1" text-anchor="start" fill="#231f20" textLength="22.45" lengthAdjust="spacingAndGlyphs">ASXL1 first</text>
<rect x="176.60" y="281.25" width="39.10" height="38.95" fill="#ebe4e5"/>
<rect x="176.60" y="285.14" width="35.19" height="35.06" fill="#cbc2c4"/>
<line x1="176.60" y1="320.20" x2="251.28" y2="245.81" stroke="#7a7a7a" stroke-width="1.0"/>
<circle cx="203.70" cy="243.30" r="2.05" fill="#2e4e80"/>
<circle cx="208.10" cy="251.80" r="2.05" fill="#2e4e80"/>
<circle cx="187.30" cy="269.30" r="2.05" fill="#2e4e80"/>
<circle cx="191.10" cy="279.70" r="2.05" fill="#2e4e80"/>
<circle cx="200.80" cy="278.60" r="2.05" fill="#2e4e80"/>
<circle cx="208.40" cy="279.10" r="2.05" fill="#2e4e80"/>
<circle cx="201.00" cy="281.00" r="2.05" fill="#2e4e80"/>
<circle cx="202.50" cy="283.50" r="2.05" fill="#2e4e80"/>
<circle cx="200.50" cy="285.00" r="2.05" fill="#2e4e80"/>
<circle cx="203.80" cy="284.50" r="2.05" fill="#2e4e80"/>
<circle cx="202.00" cy="279.00" r="2.05" fill="#2e4e80"/>
<circle cx="191.80" cy="286.60" r="2.05" fill="#2e4e80"/>
<circle cx="196.00" cy="290.20" r="2.05" fill="#2e4e80"/>
<circle cx="217.20" cy="243.70" r="2.05" fill="#62a33f"/>
<circle cx="215.90" cy="255.20" r="2.05" fill="#62a33f"/>
<circle cx="213.30" cy="276.50" r="2.05" fill="#62a33f"/>
<circle cx="215.30" cy="277.90" r="2.05" fill="#62a33f"/>
<circle cx="216.40" cy="279.70" r="2.05" fill="#62a33f"/>
<circle cx="228.80" cy="282.60" r="2.05" fill="#62a33f"/>
<circle cx="210.20" cy="284.00" r="2.05" fill="#62a33f"/>
<circle cx="212.60" cy="284.80" r="2.05" fill="#62a33f"/>
<circle cx="215.30" cy="284.30" r="2.05" fill="#62a33f"/>
<circle cx="206.30" cy="288.30" r="2.05" fill="#62a33f"/>
<circle cx="205.50" cy="289.50" r="2.05" fill="#62a33f"/>
<circle cx="205.50" cy="280.90" r="2.05" fill="#62a33f"/>
<circle cx="215.30" cy="288.10" r="2.05" fill="#a51d36"/>
<circle cx="209.50" cy="293.00" r="2.05" fill="#a51d36"/>
<circle cx="215.90" cy="309.80" r="2.05" fill="#a51d36"/>
<circle cx="206.00" cy="311.70" r="2.05" fill="#a51d36"/>
<line x1="176.60" y1="239.80" x2="176.60" y2="320.80" stroke="#231f20" stroke-width="1.2"/>
<line x1="176.00" y1="320.20" x2="257.10" y2="320.20" stroke="#231f20" stroke-width="1.3"/>
<line x1="173.50" y1="320.20" x2="176.60" y2="320.20" stroke="#231f20" stroke-width="1.0"/>
<text x="170.60" y="322.30" font-size="5.8" text-anchor="end" fill="#231f20" stroke="#231f20" stroke-width="0.18">0</text>
<line x1="173.50" y1="300.73" x2="176.60" y2="300.73" stroke="#231f20" stroke-width="1.0"/>
<text x="170.60" y="302.83" font-size="5.8" text-anchor="end" fill="#231f20" stroke="#231f20" stroke-width="0.18">25</text>
<line x1="173.50" y1="281.25" x2="176.60" y2="281.25" stroke="#231f20" stroke-width="1.0"/>
<text x="170.60" y="283.35" font-size="5.8" text-anchor="end" fill="#231f20" stroke="#231f20" stroke-width="0.18">50</text>
<line x1="173.50" y1="261.77" x2="176.60" y2="261.77" stroke="#231f20" stroke-width="1.0"/>
<text x="170.60" y="263.88" font-size="5.8" text-anchor="end" fill="#231f20" stroke="#231f20" stroke-width="0.18">75</text>
<line x1="173.50" y1="242.30" x2="176.60" y2="242.30" stroke="#231f20" stroke-width="1.0"/>
<text x="170.60" y="244.40" font-size="5.8" text-anchor="end" fill="#231f20" stroke="#231f20" stroke-width="0.18">100</text>
<line x1="176.60" y1="320.20" x2="176.60" y2="322.80" stroke="#231f20" stroke-width="1.0"/>
<text x="180.10" y="329.40" font-size="5.6" text-anchor="end" fill="#231f20" stroke="#231f20" stroke-width="0.18" transform="rotate(-45 180.10 329.40)">0</text>
<line x1="184.42" y1="320.20" x2="184.42" y2="322.80" stroke="#231f20" stroke-width="1.0"/>
<text x="187.92" y="329.40" font-size="5.6" text-anchor="end" fill="#231f20" stroke="#231f20" stroke-width="0.18" transform="rotate(-45 187.92 329.40)">10</text>
<line x1="192.24" y1="320.20" x2="192.24" y2="322.80" stroke="#231f20" stroke-width="1.0"/>
<text x="195.74" y="329.40" font-size="5.6" text-anchor="end" fill="#231f20" stroke="#231f20" stroke-width="0.18" transform="rotate(-45 195.74 329.40)">20</text>
<line x1="200.06" y1="320.20" x2="200.06" y2="322.80" stroke="#231f20" stroke-width="1.0"/>
<text x="203.56" y="329.40" font-size="5.6" text-anchor="end" fill="#231f20" stroke="#231f20" stroke-width="0.18" transform="rotate(-45 203.56 329.40)">30</text>
<line x1="207.88" y1="320.20" x2="207.88" y2="322.80" stroke="#231f20" stroke-width="1.0"/>
<text x="211.38" y="329.40" font-size="5.6" text-anchor="end" fill="#231f20" stroke="#231f20" stroke-width="0.18" transform="rotate(-45 211.38 329.40)">40</text>
<line x1="215.70" y1="320.20" x2="215.70" y2="322.80" stroke="#231f20" stroke-width="1.0"/>
<text x="219.20" y="329.40" font-size="5.6" text-anchor="end" fill="#231f20" stroke="#231f20" stroke-width="0.18" transform="rotate(-45 219.20 329.40)">50</text>
<line x1="223.52" y1="320.20" x2="223.52" y2="322.80" stroke="#231f20" stroke-width="1.0"/>
<text x="227.02" y="329.40" font-size="5.6" text-anchor="end" fill="#231f20" stroke="#231f20" stroke-width="0.18" transform="rotate(-45 227.02 329.40)">60</text>
<line x1="231.34" y1="320.20" x2="231.34" y2="322.80" stroke="#231f20" stroke-width="1.0"/>
<text x="234.84" y="329.40" font-size="5.6" text-anchor="end" fill="#231f20" stroke="#231f20" stroke-width="0.18" transform="rotate(-45 234.84 329.40)">70</text>
<line x1="239.16" y1="320.20" x2="239.16" y2="322.80" stroke="#231f20" stroke-width="1.0"/>
<text x="242.66" y="329.40" font-size="5.6" text-anchor="end" fill="#231f20" stroke="#231f20" stroke-width="0.18" transform="rotate(-45 242.66 329.40)">80</text>
<line x1="246.98" y1="320.20" x2="246.98" y2="322.80" stroke="#231f20" stroke-width="1.0"/>
<text x="250.48" y="329.40" font-size="5.6" text-anchor="end" fill="#231f20" stroke="#231f20" stroke-width="0.18" transform="rotate(-45 250.48 329.40)">90</text>
<line x1="254.80" y1="320.20" x2="254.80" y2="322.80" stroke="#231f20" stroke-width="1.0"/>
<text x="258.30" y="329.40" font-size="5.6" text-anchor="end" fill="#231f20" stroke="#231f20" stroke-width="0.18" transform="rotate(-45 258.30 329.40)">100</text>
<text x="217.10" y="343.20" font-size="8.6" text-anchor="middle" fill="#231f20" stroke="#231f20" stroke-width="0.18" textLength="50.00" lengthAdjust="spacingAndGlyphs">ASXL1 VAF (%)</text>
<text x="155.70" y="279.95" font-size="8.6" text-anchor="middle" fill="#231f20" stroke="#231f20" stroke-width="0.18" transform="rotate(-90 155.70 279.95)" textLength="55.90" lengthAdjust="spacingAndGlyphs">SETBP1&#160;&#160;VAF (%)</text>
<circle cx="190.60" cy="216.10" r="2.1" fill="#62a33f"/>
<text x="195.40" y="217.90" font-size="5.1" text-anchor="start" fill="#231f20" textLength="55.10" lengthAdjust="spacingAndGlyphs">Unclear acquisition order</text>
<circle cx="190.60" cy="224.60" r="2.1" fill="#2e4e80"/>
<text x="195.40" y="226.40" font-size="5.1" text-anchor="start" fill="#231f20" textLength="25.69" lengthAdjust="spacingAndGlyphs">SETBP1 first</text>
<circle cx="190.60" cy="233.10" r="2.1" fill="#a51d36"/>
<text x="195.40" y="234.90" font-size="5.1" text-anchor="start" fill="#231f20" textLength="22.45" lengthAdjust="spacingAndGlyphs">ASXL1 first</text>
<rect x="304.30" y="281.50" width="38.65" height="38.70" fill="#ebe4e5"/>
<rect x="304.30" y="286.92" width="33.24" height="33.28" fill="#cbc2c4"/>
<line x1="304.30" y1="320.20" x2="378.12" y2="246.28" stroke="#7a7a7a" stroke-width="1.0"/>
<circle cx="329.70" cy="244.90" r="2.05" fill="#2e4e80"/>
<circle cx="311.50" cy="280.00" r="2.05" fill="#2e4e80"/>
<circle cx="313.40" cy="280.50" r="2.05" fill="#2e4e80"/>
<circle cx="314.10" cy="283.90" r="2.05" fill="#2e4e80"/>
<circle cx="332.30" cy="281.80" r="2.05" fill="#2e4e80"/>
<circle cx="334.10" cy="287.00" r="2.05" fill="#2e4e80"/>
<circle cx="351.80" cy="244.70" r="2.05" fill="#62a33f"/>
<circle cx="339.30" cy="279.20" r="2.05" fill="#62a33f"/>
<circle cx="345.30" cy="280.00" r="2.05" fill="#62a33f"/>
<circle cx="349.20" cy="277.40" r="2.05" fill="#62a33f"/>
<circle cx="349.20" cy="284.90" r="2.05" fill="#62a33f"/>
<circle cx="351.80" cy="283.60" r="2.05" fill="#62a33f"/>
<circle cx="370.00" cy="284.90" r="2.05" fill="#62a33f"/>
<circle cx="375.10" cy="279.20" r="2.05" fill="#62a33f"/>
<circle cx="338.80" cy="309.60" r="2.05" fill="#a51d36"/>
<circle cx="371.20" cy="311.60" r="2.05" fill="#a51d36"/>
<line x1="304.30" y1="240.30" x2="304.30" y2="320.80" stroke="#231f20" stroke-width="1.2"/>
<line x1="303.70" y1="320.20" x2="383.90" y2="320.20" stroke="#231f20" stroke-width="1.3"/>
<line x1="301.20" y1="320.20" x2="304.30" y2="320.20" stroke="#231f20" stroke-width="1.0"/>
<text x="298.30" y="322.30" font-size="5.8" text-anchor="end" fill="#231f20" stroke="#231f20" stroke-width="0.18">0</text>
<line x1="301.20" y1="300.85" x2="304.30" y2="300.85" stroke="#231f20" stroke-width="1.0"/>
<text x="298.30" y="302.95" font-size="5.8" text-anchor="end" fill="#231f20" stroke="#231f20" stroke-width="0.18">25</text>
<line x1="301.20" y1="281.50" x2="304.30" y2="281.50" stroke="#231f20" stroke-width="1.0"/>
<text x="298.30" y="283.60" font-size="5.8" text-anchor="end" fill="#231f20" stroke="#231f20" stroke-width="0.18">50</text>
<line x1="301.20" y1="262.15" x2="304.30" y2="262.15" stroke="#231f20" stroke-width="1.0"/>
<text x="298.30" y="264.25" font-size="5.8" text-anchor="end" fill="#231f20" stroke="#231f20" stroke-width="0.18">75</text>
<line x1="301.20" y1="242.80" x2="304.30" y2="242.80" stroke="#231f20" stroke-width="1.0"/>
<text x="298.30" y="244.90" font-size="5.8" text-anchor="end" fill="#231f20" stroke="#231f20" stroke-width="0.18">100</text>
<line x1="304.30" y1="320.20" x2="304.30" y2="322.80" stroke="#231f20" stroke-width="1.0"/>
<text x="307.80" y="329.40" font-size="5.6" text-anchor="end" fill="#231f20" stroke="#231f20" stroke-width="0.18" transform="rotate(-45 307.80 329.40)">0</text>
<line x1="323.62" y1="320.20" x2="323.62" y2="322.80" stroke="#231f20" stroke-width="1.0"/>
<text x="327.12" y="329.40" font-size="5.6" text-anchor="end" fill="#231f20" stroke="#231f20" stroke-width="0.18" transform="rotate(-45 327.12 329.40)">25</text>
<line x1="342.95" y1="320.20" x2="342.95" y2="322.80" stroke="#231f20" stroke-width="1.0"/>
<text x="346.45" y="329.40" font-size="5.6" text-anchor="end" fill="#231f20" stroke="#231f20" stroke-width="0.18" transform="rotate(-45 346.45 329.40)">50</text>
<line x1="362.28" y1="320.20" x2="362.28" y2="322.80" stroke="#231f20" stroke-width="1.0"/>
<text x="365.78" y="329.40" font-size="5.6" text-anchor="end" fill="#231f20" stroke="#231f20" stroke-width="0.18" transform="rotate(-45 365.78 329.40)">75</text>
<line x1="381.60" y1="320.20" x2="381.60" y2="322.80" stroke="#231f20" stroke-width="1.0"/>
<text x="385.10" y="329.40" font-size="5.6" text-anchor="end" fill="#231f20" stroke="#231f20" stroke-width="0.18" transform="rotate(-45 385.10 329.40)">100</text>
<text x="343.95" y="343.50" font-size="8.6" text-anchor="middle" fill="#231f20" stroke="#231f20" stroke-width="0.18" textLength="49.30" lengthAdjust="spacingAndGlyphs">CSF3R VAF (%)</text>
<text x="283.60" y="279.55" font-size="8.6" text-anchor="middle" fill="#231f20" stroke="#231f20" stroke-width="0.18" transform="rotate(-90 283.60 279.55)" textLength="57.90" lengthAdjust="spacingAndGlyphs">SETBP1&#160;&#160;VAF (%)</text>
<circle cx="318.00" cy="216.10" r="2.1" fill="#62a33f"/>
<text x="322.80" y="217.90" font-size="5.1" text-anchor="start" fill="#231f20" textLength="55.10" lengthAdjust="spacingAndGlyphs">Unclear acquisition order</text>
<circle cx="318.00" cy="224.60" r="2.1" fill="#2e4e80"/>
<text x="322.80" y="226.40" font-size="5.1" text-anchor="start" fill="#231f20" textLength="25.69" lengthAdjust="spacingAndGlyphs">SETBP1 first</text>
<circle cx="318.00" cy="233.10" r="2.1" fill="#a51d36"/>
<text x="322.80" y="234.90" font-size="5.1" text-anchor="start" fill="#231f20" textLength="23.19" lengthAdjust="spacingAndGlyphs">CSF3R first</text>
<rect x="429.70" y="280.20" width="39.70" height="40.00" fill="#ebe4e5"/>
<rect x="429.70" y="285.00" width="34.94" height="35.20" fill="#cbc2c4"/>
<line x1="429.70" y1="320.20" x2="505.53" y2="243.80" stroke="#7a7a7a" stroke-width="1.0"/>
<circle cx="447.30" cy="277.10" r="2.05" fill="#2e4e80"/>
<circle cx="445.50" cy="282.60" r="2.05" fill="#2e4e80"/>
<circle cx="454.60" cy="283.60" r="2.05" fill="#2e4e80"/>
<circle cx="459.00" cy="277.90" r="2.05" fill="#2e4e80"/>
<circle cx="465.00" cy="277.40" r="2.05" fill="#2e4e80"/>
<circle cx="495.90" cy="268.30" r="2.05" fill="#62a33f"/>
<circle cx="462.90" cy="285.70" r="2.05" fill="#62a33f"/>
<circle cx="466.80" cy="281.80" r="2.05" fill="#62a33f"/>
<circle cx="466.80" cy="283.60" r="2.05" fill="#62a33f"/>
<circle cx="474.00" cy="287.50" r="2.05" fill="#a51d36"/>
<circle cx="489.40" cy="292.20" r="2.05" fill="#a51d36"/>
<circle cx="467.60" cy="309.00" r="2.05" fill="#a51d36"/>
<line x1="429.70" y1="237.70" x2="429.70" y2="320.80" stroke="#231f20" stroke-width="1.2"/>
<line x1="429.10" y1="320.20" x2="511.40" y2="320.20" stroke="#231f20" stroke-width="1.3"/>
<line x1="426.60" y1="320.20" x2="429.70" y2="320.20" stroke="#231f20" stroke-width="1.0"/>
<text x="423.70" y="322.30" font-size="5.8" text-anchor="end" fill="#231f20" stroke="#231f20" stroke-width="0.18">0</text>
<line x1="426.60" y1="300.20" x2="429.70" y2="300.20" stroke="#231f20" stroke-width="1.0"/>
<text x="423.70" y="302.30" font-size="5.8" text-anchor="end" fill="#231f20" stroke="#231f20" stroke-width="0.18">25</text>
<line x1="426.60" y1="280.20" x2="429.70" y2="280.20" stroke="#231f20" stroke-width="1.0"/>
<text x="423.70" y="282.30" font-size="5.8" text-anchor="end" fill="#231f20" stroke="#231f20" stroke-width="0.18">50</text>
<line x1="426.60" y1="260.20" x2="429.70" y2="260.20" stroke="#231f20" stroke-width="1.0"/>
<text x="423.70" y="262.30" font-size="5.8" text-anchor="end" fill="#231f20" stroke="#231f20" stroke-width="0.18">75</text>
<line x1="426.60" y1="240.20" x2="429.70" y2="240.20" stroke="#231f20" stroke-width="1.0"/>
<text x="423.70" y="242.30" font-size="5.8" text-anchor="end" fill="#231f20" stroke="#231f20" stroke-width="0.18">100</text>
<line x1="429.70" y1="320.20" x2="429.70" y2="322.80" stroke="#231f20" stroke-width="1.0"/>
<text x="433.20" y="329.40" font-size="5.6" text-anchor="end" fill="#231f20" stroke="#231f20" stroke-width="0.18" transform="rotate(-45 433.20 329.40)">0</text>
<line x1="449.55" y1="320.20" x2="449.55" y2="322.80" stroke="#231f20" stroke-width="1.0"/>
<text x="453.05" y="329.40" font-size="5.6" text-anchor="end" fill="#231f20" stroke="#231f20" stroke-width="0.18" transform="rotate(-45 453.05 329.40)">25</text>
<line x1="469.40" y1="320.20" x2="469.40" y2="322.80" stroke="#231f20" stroke-width="1.0"/>
<text x="472.90" y="329.40" font-size="5.6" text-anchor="end" fill="#231f20" stroke="#231f20" stroke-width="0.18" transform="rotate(-45 472.90 329.40)">50</text>
<line x1="489.25" y1="320.20" x2="489.25" y2="322.80" stroke="#231f20" stroke-width="1.0"/>
<text x="492.75" y="329.40" font-size="5.6" text-anchor="end" fill="#231f20" stroke="#231f20" stroke-width="0.18" transform="rotate(-45 492.75 329.40)">75</text>
<line x1="509.10" y1="320.20" x2="509.10" y2="322.80" stroke="#231f20" stroke-width="1.0"/>
<text x="512.60" y="329.40" font-size="5.6" text-anchor="end" fill="#231f20" stroke="#231f20" stroke-width="0.18" transform="rotate(-45 512.60 329.40)">100</text>
<text x="470.65" y="343.50" font-size="8.6" text-anchor="middle" fill="#231f20" stroke="#231f20" stroke-width="0.18" textLength="49.30" lengthAdjust="spacingAndGlyphs">SRSF2 VAF (%)</text>
<text x="408.20" y="278.80" font-size="8.6" text-anchor="middle" fill="#231f20" stroke="#231f20" stroke-width="0.18" transform="rotate(-90 408.20 278.80)" textLength="56.40" lengthAdjust="spacingAndGlyphs">SETBP1&#160;&#160;VAF (%)</text>
<circle cx="443.40" cy="216.10" r="2.1" fill="#62a33f"/>
<text x="448.20" y="217.90" font-size="5.1" text-anchor="start" fill="#231f20" textLength="55.10" lengthAdjust="spacingAndGlyphs">Unclear acquisition order</text>
<circle cx="443.40" cy="224.60" r="2.1" fill="#2e4e80"/>
<text x="448.20" y="226.40" font-size="5.1" text-anchor="start" fill="#231f20" textLength="25.69" lengthAdjust="spacingAndGlyphs">SETBP1 first</text>
<circle cx="443.40" cy="233.10" r="2.1" fill="#a51d36"/>
<text x="448.20" y="234.90" font-size="5.1" text-anchor="start" fill="#231f20" textLength="22.94" lengthAdjust="spacingAndGlyphs">SRSF2 first</text>
<rect x="40.80" y="420.55" width="40.95" height="40.45" fill="#ebe4e5"/>
<rect x="40.80" y="425.40" width="36.04" height="35.60" fill="#cbc2c4"/>
<line x1="40.80" y1="461.00" x2="119.01" y2="383.74" stroke="#7a7a7a" stroke-width="1.0"/>
<circle cx="75.90" cy="392.50" r="2.05" fill="#2e4e80"/>
<circle cx="65.70" cy="417.90" r="2.05" fill="#2e4e80"/>
<circle cx="72.80" cy="417.40" r="2.05" fill="#2e4e80"/>
<circle cx="67.50" cy="423.40" r="2.05" fill="#2e4e80"/>
<circle cx="69.70" cy="423.40" r="2.05" fill="#2e4e80"/>
<circle cx="82.10" cy="396.60" r="2.05" fill="#62a33f"/>
<circle cx="75.60" cy="422.90" r="2.05" fill="#62a33f"/>
<circle cx="79.80" cy="421.60" r="2.05" fill="#62a33f"/>
<circle cx="82.00" cy="419.80" r="2.05" fill="#62a33f"/>
<circle cx="81.40" cy="424.00" r="2.05" fill="#62a33f"/>
<circle cx="89.30" cy="417.60" r="2.05" fill="#62a33f"/>
<circle cx="89.40" cy="423.60" r="2.05" fill="#62a33f"/>
<circle cx="60.60" cy="438.60" r="2.05" fill="#62a33f"/>
<circle cx="110.80" cy="419.80" r="2.05" fill="#62a33f"/>
<circle cx="113.20" cy="421.60" r="2.05" fill="#62a33f"/>
<circle cx="114.80" cy="419.20" r="2.05" fill="#62a33f"/>
<circle cx="117.20" cy="420.70" r="2.05" fill="#62a33f"/>
<circle cx="113.60" cy="422.50" r="2.05" fill="#62a33f"/>
<circle cx="122.10" cy="424.30" r="2.05" fill="#62a33f"/>
<circle cx="113.20" cy="431.10" r="2.05" fill="#a51d36"/>
<circle cx="119.60" cy="429.10" r="2.05" fill="#a51d36"/>
<line x1="40.80" y1="377.60" x2="40.80" y2="461.60" stroke="#231f20" stroke-width="1.2"/>
<line x1="40.20" y1="461.00" x2="125.00" y2="461.00" stroke="#231f20" stroke-width="1.3"/>
<line x1="37.70" y1="461.00" x2="40.80" y2="461.00" stroke="#231f20" stroke-width="1.0"/>
<text x="34.80" y="463.10" font-size="5.8" text-anchor="end" fill="#231f20" stroke="#231f20" stroke-width="0.18">0</text>
<line x1="37.70" y1="440.77" x2="40.80" y2="440.77" stroke="#231f20" stroke-width="1.0"/>
<text x="34.80" y="442.88" font-size="5.8" text-anchor="end" fill="#231f20" stroke="#231f20" stroke-width="0.18">25</text>
<line x1="37.70" y1="420.55" x2="40.80" y2="420.55" stroke="#231f20" stroke-width="1.0"/>
<text x="34.80" y="422.65" font-size="5.8" text-anchor="end" fill="#231f20" stroke="#231f20" stroke-width="0.18">50</text>
<line x1="37.70" y1="400.33" x2="40.80" y2="400.33" stroke="#231f20" stroke-width="1.0"/>
<text x="34.80" y="402.43" font-size="5.8" text-anchor="end" fill="#231f20" stroke="#231f20" stroke-width="0.18">75</text>
<line x1="37.70" y1="380.10" x2="40.80" y2="380.10" stroke="#231f20" stroke-width="1.0"/>
<text x="34.80" y="382.20" font-size="5.8" text-anchor="end" fill="#231f20" stroke="#231f20" stroke-width="0.18">100</text>
<line x1="40.80" y1="461.00" x2="40.80" y2="463.60" stroke="#231f20" stroke-width="1.0"/>
<text x="44.30" y="470.20" font-size="5.6" text-anchor="end" fill="#231f20" stroke="#231f20" stroke-width="0.18" transform="rotate(-45 44.30 470.20)">0</text>
<line x1="61.27" y1="461.00" x2="61.27" y2="463.60" stroke="#231f20" stroke-width="1.0"/>
<text x="64.78" y="470.20" font-size="5.6" text-anchor="end" fill="#231f20" stroke="#231f20" stroke-width="0.18" transform="rotate(-45 64.78 470.20)">25</text>
<line x1="81.75" y1="461.00" x2="81.75" y2="463.60" stroke="#231f20" stroke-width="1.0"/>
<text x="85.25" y="470.20" font-size="5.6" text-anchor="end" fill="#231f20" stroke="#231f20" stroke-width="0.18" transform="rotate(-45 85.25 470.20)">50</text>
<line x1="102.22" y1="461.00" x2="102.22" y2="463.60" stroke="#231f20" stroke-width="1.0"/>
<text x="105.72" y="470.20" font-size="5.6" text-anchor="end" fill="#231f20" stroke="#231f20" stroke-width="0.18" transform="rotate(-45 105.72 470.20)">75</text>
<line x1="122.70" y1="461.00" x2="122.70" y2="463.60" stroke="#231f20" stroke-width="1.0"/>
<text x="126.20" y="470.20" font-size="5.6" text-anchor="end" fill="#231f20" stroke="#231f20" stroke-width="0.18" transform="rotate(-45 126.20 470.20)">100</text>
<text x="82.45" y="489.10" font-size="8.6" text-anchor="middle" fill="#231f20" stroke="#231f20" stroke-width="0.18" textLength="46.50" lengthAdjust="spacingAndGlyphs">EZH2 VAF (%)</text>
<text x="19.60" y="419.20" font-size="8.6" text-anchor="middle" fill="#231f20" stroke="#231f20" stroke-width="0.18" transform="rotate(-90 19.60 419.20)" textLength="45.20" lengthAdjust="spacingAndGlyphs">TET2 VAF (%)</text>
<circle cx="54.50" cy="362.80" r="2.1" fill="#62a33f"/>
<text x="59.30" y="364.60" font-size="5.1" text-anchor="start" fill="#231f20" textLength="55.10" lengthAdjust="spacingAndGlyphs">Unclear acquisition order</text>
<circle cx="54.50" cy="371.30" r="2.1" fill="#2e4e80"/>
<text x="59.30" y="373.10" font-size="5.1" text-anchor="start" fill="#231f20" textLength="19.45" lengthAdjust="spacingAndGlyphs">TET2 first</text>
<circle cx="54.50" cy="379.80" r="2.1" fill="#a51d36"/>
<text x="59.30" y="381.60" font-size="5.1" text-anchor="start" fill="#231f20" textLength="19.95" lengthAdjust="spacingAndGlyphs">EZH2 first</text>
<rect x="176.50" y="422.30" width="38.70" height="38.70" fill="#ebe4e5"/>
<rect x="176.50" y="426.94" width="34.06" height="34.06" fill="#cbc2c4"/>
<line x1="176.50" y1="461.00" x2="250.42" y2="387.08" stroke="#7a7a7a" stroke-width="1.0"/>
<circle cx="196.00" cy="395.30" r="2.05" fill="#2e4e80"/>
<circle cx="202.00" cy="417.10" r="2.05" fill="#2e4e80"/>
<circle cx="178.60" cy="430.30" r="2.05" fill="#2e4e80"/>
<circle cx="195.50" cy="432.20" r="2.05" fill="#2e4e80"/>
<circle cx="226.60" cy="387.00" r="2.05" fill="#62a33f"/>
<circle cx="214.70" cy="417.90" r="2.05" fill="#62a33f"/>
<circle cx="213.40" cy="422.60" r="2.05" fill="#62a33f"/>
<circle cx="212.10" cy="424.40" r="2.05" fill="#62a33f"/>
<circle cx="219.40" cy="420.50" r="2.05" fill="#62a33f"/>
<circle cx="202.00" cy="440.70" r="2.05" fill="#a51d36"/>
<circle cx="215.00" cy="431.40" r="2.05" fill="#a51d36"/>
<circle cx="217.60" cy="442.00" r="2.05" fill="#a51d36"/>
<circle cx="219.40" cy="449.60" r="2.05" fill="#a51d36"/>
<line x1="176.50" y1="381.10" x2="176.50" y2="461.60" stroke="#231f20" stroke-width="1.2"/>
<line x1="175.90" y1="461.00" x2="256.20" y2="461.00" stroke="#231f20" stroke-width="1.3"/>
<line x1="173.40" y1="461.00" x2="176.50" y2="461.00" stroke="#231f20" stroke-width="1.0"/>
<text x="170.50" y="463.10" font-size="5.8" text-anchor="end" fill="#231f20" stroke="#231f20" stroke-width="0.18">0</text>
<line x1="173.40" y1="441.65" x2="176.50" y2="441.65" stroke="#231f20" stroke-width="1.0"/>
<text x="170.50" y="443.75" font-size="5.8" text-anchor="end" fill="#231f20" stroke="#231f20" stroke-width="0.18">25</text>
<line x1="173.40" y1="422.30" x2="176.50" y2="422.30" stroke="#231f20" stroke-width="1.0"/>
<text x="170.50" y="424.40" font-size="5.8" text-anchor="end" fill="#231f20" stroke="#231f20" stroke-width="0.18">50</text>
<line x1="173.40" y1="402.95" x2="176.50" y2="402.95" stroke="#231f20" stroke-width="1.0"/>
<text x="170.50" y="405.05" font-size="5.8" text-anchor="end" fill="#231f20" stroke="#231f20" stroke-width="0.18">75</text>
<line x1="173.40" y1="383.60" x2="176.50" y2="383.60" stroke="#231f20" stroke-width="1.0"/>
<text x="170.50" y="385.70" font-size="5.8" text-anchor="end" fill="#231f20" stroke="#231f20" stroke-width="0.18">100</text>
<line x1="176.50" y1="461.00" x2="176.50" y2="463.60" stroke="#231f20" stroke-width="1.0"/>
<text x="180.00" y="470.20" font-size="5.6" text-anchor="end" fill="#231f20" stroke="#231f20" stroke-width="0.18" transform="rotate(-45 180.00 470.20)">0</text>
<line x1="195.85" y1="461.00" x2="195.85" y2="463.60" stroke="#231f20" stroke-width="1.0"/>
<text x="199.35" y="470.20" font-size="5.6" text-anchor="end" fill="#231f20" stroke="#231f20" stroke-width="0.18" transform="rotate(-45 199.35 470.20)">25</text>
<line x1="215.20" y1="461.00" x2="215.20" y2="463.60" stroke="#231f20" stroke-width="1.0"/>
<text x="218.70" y="470.20" font-size="5.6" text-anchor="end" fill="#231f20" stroke="#231f20" stroke-width="0.18" transform="rotate(-45 218.70 470.20)">50</text>
<line x1="234.55" y1="461.00" x2="234.55" y2="463.60" stroke="#231f20" stroke-width="1.0"/>
<text x="238.05" y="470.20" font-size="5.6" text-anchor="end" fill="#231f20" stroke="#231f20" stroke-width="0.18" transform="rotate(-45 238.05 470.20)">75</text>
<line x1="253.90" y1="461.00" x2="253.90" y2="463.60" stroke="#231f20" stroke-width="1.0"/>
<text x="257.40" y="470.20" font-size="5.6" text-anchor="end" fill="#231f20" stroke="#231f20" stroke-width="0.18" transform="rotate(-45 257.40 470.20)">100</text>
<text x="216.25" y="489.30" font-size="8.6" text-anchor="middle" fill="#231f20" stroke="#231f20" stroke-width="0.18" textLength="49.30" lengthAdjust="spacingAndGlyphs">SRSF2 VAF (%)</text>
<text x="155.90" y="420.75" font-size="8.6" text-anchor="middle" fill="#231f20" stroke="#231f20" stroke-width="0.18" transform="rotate(-90 155.90 420.75)" textLength="52.50" lengthAdjust="spacingAndGlyphs">GATA2 VAF (%)</text>
<circle cx="190.00" cy="362.80" r="2.1" fill="#62a33f"/>
<text x="194.80" y="364.60" font-size="5.1" text-anchor="start" fill="#231f20" textLength="55.10" lengthAdjust="spacingAndGlyphs">Unclear acquisition order</text>
<circle cx="190.00" cy="371.30" r="2.1" fill="#2e4e80"/>
<text x="194.80" y="373.10" font-size="5.1" text-anchor="start" fill="#231f20" textLength="22.52" lengthAdjust="spacingAndGlyphs">GATA2 first</text>
<circle cx="190.00" cy="379.80" r="2.1" fill="#a51d36"/>
<text x="194.80" y="381.60" font-size="5.1" text-anchor="start" fill="#231f20" textLength="22.94" lengthAdjust="spacingAndGlyphs">SRSF2 first</text>
<rect x="304.30" y="427.20" width="36.35" height="34.00" fill="#ebe4e5"/>
<rect x="304.30" y="431.28" width="31.99" height="29.92" fill="#cbc2c4"/>
<line x1="304.30" y1="461.20" x2="373.73" y2="396.26" stroke="#7a7a7a" stroke-width="1.0"/>
<circle cx="336.50" cy="422.00" r="2.05" fill="#2e4e80"/>
<circle cx="338.00" cy="432.20" r="2.05" fill="#62a33f"/>
<circle cx="339.60" cy="430.30" r="2.05" fill="#62a33f"/>
<circle cx="342.20" cy="430.30" r="2.05" fill="#62a33f"/>
<circle cx="337.00" cy="436.80" r="2.05" fill="#a51d36"/>
<circle cx="341.90" cy="434.20" r="2.05" fill="#a51d36"/>
<circle cx="341.40" cy="442.50" r="2.05" fill="#a51d36"/>
<circle cx="319.30" cy="451.60" r="2.05" fill="#a51d36"/>
<line x1="304.30" y1="390.70" x2="304.30" y2="461.80" stroke="#231f20" stroke-width="1.2"/>
<line x1="303.70" y1="461.20" x2="379.30" y2="461.20" stroke="#231f20" stroke-width="1.3"/>
<line x1="301.20" y1="461.20" x2="304.30" y2="461.20" stroke="#231f20" stroke-width="1.0"/>
<text x="298.30" y="463.30" font-size="5.8" text-anchor="end" fill="#231f20" stroke="#231f20" stroke-width="0.18">0</text>
<line x1="301.20" y1="444.20" x2="304.30" y2="444.20" stroke="#231f20" stroke-width="1.0"/>
<text x="298.30" y="446.30" font-size="5.8" text-anchor="end" fill="#231f20" stroke="#231f20" stroke-width="0.18">25</text>
<line x1="301.20" y1="427.20" x2="304.30" y2="427.20" stroke="#231f20" stroke-width="1.0"/>
<text x="298.30" y="429.30" font-size="5.8" text-anchor="end" fill="#231f20" stroke="#231f20" stroke-width="0.18">50</text>
<line x1="301.20" y1="410.20" x2="304.30" y2="410.20" stroke="#231f20" stroke-width="1.0"/>
<text x="298.30" y="412.30" font-size="5.8" text-anchor="end" fill="#231f20" stroke="#231f20" stroke-width="0.18">75</text>
<line x1="301.20" y1="393.20" x2="304.30" y2="393.20" stroke="#231f20" stroke-width="1.0"/>
<text x="298.30" y="395.30" font-size="5.8" text-anchor="end" fill="#231f20" stroke="#231f20" stroke-width="0.18">100</text>
<line x1="304.30" y1="461.20" x2="304.30" y2="463.80" stroke="#231f20" stroke-width="1.0"/>
<text x="307.80" y="470.40" font-size="5.6" text-anchor="end" fill="#231f20" stroke="#231f20" stroke-width="0.18" transform="rotate(-45 307.80 470.40)">0</text>
<line x1="322.48" y1="461.20" x2="322.48" y2="463.80" stroke="#231f20" stroke-width="1.0"/>
<text x="325.98" y="470.40" font-size="5.6" text-anchor="end" fill="#231f20" stroke="#231f20" stroke-width="0.18" transform="rotate(-45 325.98 470.40)">25</text>
<line x1="340.65" y1="461.20" x2="340.65" y2="463.80" stroke="#231f20" stroke-width="1.0"/>
<text x="344.15" y="470.40" font-size="5.6" text-anchor="end" fill="#231f20" stroke="#231f20" stroke-width="0.18" transform="rotate(-45 344.15 470.40)">50</text>
<line x1="358.82" y1="461.20" x2="358.82" y2="463.80" stroke="#231f20" stroke-width="1.0"/>
<text x="362.32" y="470.40" font-size="5.6" text-anchor="end" fill="#231f20" stroke="#231f20" stroke-width="0.18" transform="rotate(-45 362.32 470.40)">75</text>
<line x1="377.00" y1="461.20" x2="377.00" y2="463.80" stroke="#231f20" stroke-width="1.0"/>
<text x="380.50" y="470.40" font-size="5.6" text-anchor="end" fill="#231f20" stroke="#231f20" stroke-width="0.18" transform="rotate(-45 380.50 470.40)">100</text>
<text x="342.15" y="489.30" font-size="8.6" text-anchor="middle" fill="#231f20" stroke="#231f20" stroke-width="0.18" textLength="51.90" lengthAdjust="spacingAndGlyphs">U2AF1 VAF (%)</text>
<text x="283.60" y="425.90" font-size="8.6" text-anchor="middle" fill="#231f20" stroke="#231f20" stroke-width="0.18" transform="rotate(-90 283.60 425.90)" textLength="52.40" lengthAdjust="spacingAndGlyphs">GATA2&#160;&#160;VAF (%)</text>
<circle cx="318.00" cy="362.80" r="2.1" fill="#62a33f"/>
<text x="322.80" y="364.60" font-size="5.1" text-anchor="start" fill="#231f20" textLength="55.10" lengthAdjust="spacingAndGlyphs">Unclear acquisition order</text>
<circle cx="318.00" cy="371.30" r="2.1" fill="#2e4e80"/>
<text x="322.80" y="373.10" font-size="5.1" text-anchor="start" fill="#231f20" textLength="22.52" lengthAdjust="spacingAndGlyphs">GATA2 first</text>
<circle cx="318.00" cy="379.80" r="2.1" fill="#a51d36"/>
<text x="322.80" y="381.60" font-size="5.1" text-anchor="start" fill="#231f20" textLength="22.44" lengthAdjust="spacingAndGlyphs">U2AF1 first</text>
<rect x="429.70" y="423.50" width="37.35" height="37.50" fill="#ebe4e5"/>
<rect x="429.70" y="428.00" width="32.87" height="33.00" fill="#cbc2c4"/>
<line x1="429.70" y1="461.00" x2="501.04" y2="389.38" stroke="#7a7a7a" stroke-width="1.0"/>
<circle cx="438.20" cy="398.90" r="2.05" fill="#2e4e80"/>
<circle cx="452.00" cy="414.80" r="2.05" fill="#2e4e80"/>
<circle cx="460.80" cy="419.70" r="2.05" fill="#2e4e80"/>
<circle cx="466.80" cy="436.60" r="2.05" fill="#a51d36"/>
<circle cx="465.50" cy="441.20" r="2.05" fill="#a51d36"/>
<circle cx="462.40" cy="445.10" r="2.05" fill="#a51d36"/>
<line x1="429.70" y1="383.50" x2="429.70" y2="461.60" stroke="#231f20" stroke-width="1.2"/>
<line x1="429.10" y1="461.00" x2="506.70" y2="461.00" stroke="#231f20" stroke-width="1.3"/>
<line x1="426.60" y1="461.00" x2="429.70" y2="461.00" stroke="#231f20" stroke-width="1.0"/>
<text x="423.70" y="463.10" font-size="5.8" text-anchor="end" fill="#231f20" stroke="#231f20" stroke-width="0.18">0</text>
<line x1="426.60" y1="442.25" x2="429.70" y2="442.25" stroke="#231f20" stroke-width="1.0"/>
<text x="423.70" y="444.35" font-size="5.8" text-anchor="end" fill="#231f20" stroke="#231f20" stroke-width="0.18">25</text>
<line x1="426.60" y1="423.50" x2="429.70" y2="423.50" stroke="#231f20" stroke-width="1.0"/>
<text x="423.70" y="425.60" font-size="5.8" text-anchor="end" fill="#231f20" stroke="#231f20" stroke-width="0.18">50</text>
<line x1="426.60" y1="404.75" x2="429.70" y2="404.75" stroke="#231f20" stroke-width="1.0"/>
<text x="423.70" y="406.85" font-size="5.8" text-anchor="end" fill="#231f20" stroke="#231f20" stroke-width="0.18">75</text>
<line x1="426.60" y1="386.00" x2="429.70" y2="386.00" stroke="#231f20" stroke-width="1.0"/>
<text x="423.70" y="388.10" font-size="5.8" text-anchor="end" fill="#231f20" stroke="#231f20" stroke-width="0.18">100</text>
<line x1="429.70" y1="461.00" x2="429.70" y2="463.60" stroke="#231f20" stroke-width="1.0"/>
<text x="433.20" y="470.20" font-size="5.6" text-anchor="end" fill="#231f20" stroke="#231f20" stroke-width="0.18" transform="rotate(-45 433.20 470.20)">0</text>
<line x1="448.38" y1="461.00" x2="448.38" y2="463.60" stroke="#231f20" stroke-width="1.0"/>
<text x="451.88" y="470.20" font-size="5.6" text-anchor="end" fill="#231f20" stroke="#231f20" stroke-width="0.18" transform="rotate(-45 451.88 470.20)">25</text>
<line x1="467.05" y1="461.00" x2="467.05" y2="463.60" stroke="#231f20" stroke-width="1.0"/>
<text x="470.55" y="470.20" font-size="5.6" text-anchor="end" fill="#231f20" stroke="#231f20" stroke-width="0.18" transform="rotate(-45 470.55 470.20)">50</text>
<line x1="485.72" y1="461.00" x2="485.72" y2="463.60" stroke="#231f20" stroke-width="1.0"/>
<text x="489.22" y="470.20" font-size="5.6" text-anchor="end" fill="#231f20" stroke="#231f20" stroke-width="0.18" transform="rotate(-45 489.22 470.20)">75</text>
<line x1="504.40" y1="461.00" x2="504.40" y2="463.60" stroke="#231f20" stroke-width="1.0"/>
<text x="507.90" y="470.20" font-size="5.6" text-anchor="end" fill="#231f20" stroke="#231f20" stroke-width="0.18" transform="rotate(-45 507.90 470.20)">100</text>
<text x="467.65" y="489.30" font-size="8.6" text-anchor="middle" fill="#231f20" stroke="#231f20" stroke-width="0.18" textLength="50.10" lengthAdjust="spacingAndGlyphs">ASXL1 VAF (%)</text>
<text x="408.20" y="422.30" font-size="8.6" text-anchor="middle" fill="#231f20" stroke="#231f20" stroke-width="0.18" transform="rotate(-90 408.20 422.30)" textLength="54.60" lengthAdjust="spacingAndGlyphs">U2AF1&#160;&#160;VAF (%)</text>
<circle cx="443.40" cy="362.80" r="2.1" fill="#62a33f"/>
<text x="448.20" y="364.60" font-size="5.1" text-anchor="start" fill="#231f20" textLength="55.10" lengthAdjust="spacingAndGlyphs">Unclear acquisition order</text>
<circle cx="443.40" cy="371.30" r="2.1" fill="#2e4e80"/>
<text x="448.20" y="373.10" font-size="5.1" text-anchor="start" fill="#231f20" textLength="22.94" lengthAdjust="spacingAndGlyphs">SRSF2 first</text>
<circle cx="443.40" cy="379.80" r="2.1" fill="#a51d36"/>
<text x="448.20" y="381.60" font-size="5.1" text-anchor="start" fill="#231f20" textLength="20.45" lengthAdjust="spacingAndGlyphs">CUX1 first</text>
<text x="7.80" y="516.60" font-size="10.6" text-anchor="start" fill="#231f20" textLength="6.60" lengthAdjust="spacingAndGlyphs">C</text>
<line x1="40.50" y1="517.00" x2="40.50" y2="609.40" stroke="#231f20" stroke-width="1.2"/>
<line x1="39.90" y1="608.80" x2="250.20" y2="608.80" stroke="#231f20" stroke-width="1.3"/>
<line x1="37.50" y1="608.80" x2="40.50" y2="608.80" stroke="#231f20" stroke-width="1.0"/>
<text x="34.90" y="610.90" font-size="5.7" text-anchor="end" fill="#231f20" stroke="#231f20" stroke-width="0.18">0</text>
<line x1="37.50" y1="590.84" x2="40.50" y2="590.84" stroke="#231f20" stroke-width="1.0"/>
<text x="34.90" y="592.94" font-size="5.7" text-anchor="end" fill="#231f20" stroke="#231f20" stroke-width="0.18">20</text>
<line x1="37.50" y1="572.88" x2="40.50" y2="572.88" stroke="#231f20" stroke-width="1.0"/>
<text x="34.90" y="574.98" font-size="5.7" text-anchor="end" fill="#231f20" stroke="#231f20" stroke-width="0.18">40</text>
<line x1="37.50" y1="554.92" x2="40.50" y2="554.92" stroke="#231f20" stroke-width="1.0"/>
<text x="34.90" y="557.02" font-size="5.7" text-anchor="end" fill="#231f20" stroke="#231f20" stroke-width="0.18">60</text>
<line x1="37.50" y1="536.96" x2="40.50" y2="536.96" stroke="#231f20" stroke-width="1.0"/>
<text x="34.90" y="539.06" font-size="5.7" text-anchor="end" fill="#231f20" stroke="#231f20" stroke-width="0.18">80</text>
<line x1="37.50" y1="519.00" x2="40.50" y2="519.00" stroke="#231f20" stroke-width="1.0"/>
<text x="34.90" y="521.10" font-size="5.7" text-anchor="end" fill="#231f20" stroke="#231f20" stroke-width="0.18">100</text>
<line x1="43.50" y1="608.80" x2="43.50" y2="611.20" stroke="#231f20" stroke-width="1.0"/>
<text x="44.50" y="616.20" font-size="4.1" text-anchor="end" fill="#333" transform="rotate(-47 44.50 616.20)">13-01741</text>
<line x1="49.67" y1="608.80" x2="49.67" y2="611.20" stroke="#231f20" stroke-width="1.0"/>
<text x="50.67" y="616.20" font-size="4.1" text-anchor="end" fill="#333" transform="rotate(-47 50.67 616.20)">13-01768</text>
<line x1="55.83" y1="608.80" x2="55.83" y2="611.20" stroke="#231f20" stroke-width="1.0"/>
<text x="56.83" y="616.20" font-size="4.1" text-anchor="end" fill="#333" transform="rotate(-47 56.83 616.20)">13-00127</text>
<line x1="62.00" y1="608.80" x2="62.00" y2="611.20" stroke="#231f20" stroke-width="1.0"/>
<text x="63.00" y="616.20" font-size="4.1" text-anchor="end" fill="#333" transform="rotate(-47 63.00 616.20)">12-00604</text>
<line x1="68.17" y1="608.80" x2="68.17" y2="611.20" stroke="#231f20" stroke-width="1.0"/>
<text x="69.17" y="616.20" font-size="4.1" text-anchor="end" fill="#333" transform="rotate(-47 69.17 616.20)">13-00925</text>
<line x1="74.34" y1="608.80" x2="74.34" y2="611.20" stroke="#231f20" stroke-width="1.0"/>
<text x="75.34" y="616.20" font-size="4.1" text-anchor="end" fill="#333" transform="rotate(-47 75.34 616.20)">14-00215</text>
<line x1="80.50" y1="608.80" x2="80.50" y2="611.20" stroke="#231f20" stroke-width="1.0"/>
<text x="81.50" y="616.20" font-size="4.1" text-anchor="end" fill="#333" transform="rotate(-47 81.50 616.20)">15-00170</text>
<line x1="86.67" y1="608.80" x2="86.67" y2="611.20" stroke="#231f20" stroke-width="1.0"/>
<text x="87.67" y="616.20" font-size="4.1" text-anchor="end" fill="#333" transform="rotate(-47 87.67 616.20)">13-00240</text>
<line x1="92.84" y1="608.80" x2="92.84" y2="611.20" stroke="#231f20" stroke-width="1.0"/>
<text x="93.84" y="616.20" font-size="4.1" text-anchor="end" fill="#333" transform="rotate(-47 93.84 616.20)">14-00740</text>
<line x1="99.00" y1="608.80" x2="99.00" y2="611.20" stroke="#231f20" stroke-width="1.0"/>
<text x="100.00" y="616.20" font-size="4.1" text-anchor="end" fill="#333" transform="rotate(-47 100.00 616.20)">12-00689</text>
<line x1="105.17" y1="608.80" x2="105.17" y2="611.20" stroke="#231f20" stroke-width="1.0"/>
<text x="106.17" y="616.20" font-size="4.1" text-anchor="end" fill="#333" transform="rotate(-47 106.17 616.20)">13-00788</text>
<line x1="111.34" y1="608.80" x2="111.34" y2="611.20" stroke="#231f20" stroke-width="1.0"/>
<text x="112.34" y="616.20" font-size="4.1" text-anchor="end" fill="#333" transform="rotate(-47 112.34 616.20)">13-01684</text>
<line x1="117.50" y1="608.80" x2="117.50" y2="611.20" stroke="#231f20" stroke-width="1.0"/>
<text x="118.50" y="616.20" font-size="4.1" text-anchor="end" fill="#333" transform="rotate(-47 118.50 616.20)">14-00295</text>
<line x1="123.67" y1="608.80" x2="123.67" y2="611.20" stroke="#231f20" stroke-width="1.0"/>
<text x="124.67" y="616.20" font-size="4.1" text-anchor="end" fill="#333" transform="rotate(-47 124.67 616.20)">14-00283</text>
<line x1="129.84" y1="608.80" x2="129.84" y2="611.20" stroke="#231f20" stroke-width="1.0"/>
<text x="130.84" y="616.20" font-size="4.1" text-anchor="end" fill="#333" transform="rotate(-47 130.84 616.20)">13-00133</text>
<line x1="136.00" y1="608.80" x2="136.00" y2="611.20" stroke="#231f20" stroke-width="1.0"/>
<text x="137.00" y="616.20" font-size="4.1" text-anchor="end" fill="#333" transform="rotate(-47 137.00 616.20)">15-00437</text>
<line x1="142.17" y1="608.80" x2="142.17" y2="611.20" stroke="#231f20" stroke-width="1.0"/>
<text x="143.17" y="616.20" font-size="4.1" text-anchor="end" fill="#333" transform="rotate(-47 143.17 616.20)">14-02098</text>
<line x1="148.34" y1="608.80" x2="148.34" y2="611.20" stroke="#231f20" stroke-width="1.0"/>
<text x="149.34" y="616.20" font-size="4.1" text-anchor="end" fill="#333" transform="rotate(-47 149.34 616.20)">13-00402</text>
<line x1="154.51" y1="608.80" x2="154.51" y2="611.20" stroke="#231f20" stroke-width="1.0"/>
<text x="155.51" y="616.20" font-size="4.1" text-anchor="end" fill="#333" transform="rotate(-47 155.51 616.20)">14-00171</text>
<line x1="160.67" y1="608.80" x2="160.67" y2="611.20" stroke="#231f20" stroke-width="1.0"/>
<text x="161.67" y="616.20" font-size="4.1" text-anchor="end" fill="#333" transform="rotate(-47 161.67 616.20)">13-00740</text>
<line x1="166.84" y1="608.80" x2="166.84" y2="611.20" stroke="#231f20" stroke-width="1.0"/>
<text x="167.84" y="616.20" font-size="4.1" text-anchor="end" fill="#333" transform="rotate(-47 167.84 616.20)">14-00486</text>
<line x1="173.01" y1="608.80" x2="173.01" y2="611.20" stroke="#231f20" stroke-width="1.0"/>
<text x="174.01" y="616.20" font-size="4.1" text-anchor="end" fill="#333" transform="rotate(-47 174.01 616.20)">15-00442</text>
<line x1="179.17" y1="608.80" x2="179.17" y2="611.20" stroke="#231f20" stroke-width="1.0"/>
<text x="180.17" y="616.20" font-size="4.1" text-anchor="end" fill="#333" transform="rotate(-47 180.17 616.20)">14-00411</text>
<line x1="185.34" y1="608.80" x2="185.34" y2="611.20" stroke="#231f20" stroke-width="1.0"/>
<text x="186.34" y="616.20" font-size="4.1" text-anchor="end" fill="#333" transform="rotate(-47 186.34 616.20)">15-00482</text>
<line x1="191.51" y1="608.80" x2="191.51" y2="611.20" stroke="#231f20" stroke-width="1.0"/>
<text x="192.51" y="616.20" font-size="4.1" text-anchor="end" fill="#333" transform="rotate(-47 192.51 616.20)">09-00283</text>
<line x1="197.67" y1="608.80" x2="197.67" y2="611.20" stroke="#231f20" stroke-width="1.0"/>
<text x="198.67" y="616.20" font-size="4.1" text-anchor="end" fill="#333" transform="rotate(-47 198.67 616.20)">12-00215</text>
<line x1="203.84" y1="608.80" x2="203.84" y2="611.20" stroke="#231f20" stroke-width="1.0"/>
<text x="204.84" y="616.20" font-size="4.1" text-anchor="end" fill="#333" transform="rotate(-47 204.84 616.20)">12-00270</text>
<line x1="210.01" y1="608.80" x2="210.01" y2="611.20" stroke="#231f20" stroke-width="1.0"/>
<text x="211.01" y="616.20" font-size="4.1" text-anchor="end" fill="#333" transform="rotate(-47 211.01 616.20)">13-00067</text>
<line x1="216.18" y1="608.80" x2="216.18" y2="611.20" stroke="#231f20" stroke-width="1.0"/>
<text x="217.18" y="616.20" font-size="4.1" text-anchor="end" fill="#333" transform="rotate(-47 217.18 616.20)">12-00024</text>
<line x1="222.34" y1="608.80" x2="222.34" y2="611.20" stroke="#231f20" stroke-width="1.0"/>
<text x="223.34" y="616.20" font-size="4.1" text-anchor="end" fill="#333" transform="rotate(-47 223.34 616.20)">14-00711</text>
<line x1="228.51" y1="608.80" x2="228.51" y2="611.20" stroke="#231f20" stroke-width="1.0"/>
<text x="229.51" y="616.20" font-size="4.1" text-anchor="end" fill="#333" transform="rotate(-47 229.51 616.20)">13-00189</text>
<line x1="234.68" y1="608.80" x2="234.68" y2="611.20" stroke="#231f20" stroke-width="1.0"/>
<text x="235.68" y="616.20" font-size="4.1" text-anchor="end" fill="#333" transform="rotate(-47 235.68 616.20)">11-01540</text>
<line x1="240.84" y1="608.80" x2="240.84" y2="611.20" stroke="#231f20" stroke-width="1.0"/>
<text x="241.84" y="616.20" font-size="4.1" text-anchor="end" fill="#333" transform="rotate(-47 241.84 616.20)">11-00442</text>
<line x1="247.01" y1="608.80" x2="247.01" y2="611.20" stroke="#231f20" stroke-width="1.0"/>
<text x="248.01" y="616.20" font-size="4.1" text-anchor="end" fill="#333" transform="rotate(-47 248.01 616.20)">09-00206</text>
<text x="19.30" y="563.50" font-size="8.5" text-anchor="middle" fill="#231f20" stroke="#231f20" stroke-width="0.05" transform="rotate(-90 19.30 563.50)" textLength="27.40" lengthAdjust="spacingAndGlyphs">VAF (%)</text>
<circle cx="43.50" cy="534.80" r="2.1" fill="#e9b528"/>
<circle cx="49.67" cy="542.10" r="2.1" fill="#e9b528"/>
<circle cx="55.83" cy="545.60" r="2.1" fill="#e9b528"/>
<circle cx="62.00" cy="553.60" r="2.1" fill="#e9b528"/>
<circle cx="68.17" cy="556.90" r="2.1" fill="#e9b528"/>
<circle cx="74.34" cy="557.50" r="2.1" fill="#e9b528"/>
<circle cx="80.50" cy="558.50" r="2.1" fill="#e9b528"/>
<circle cx="86.67" cy="559.10" r="2.1" fill="#e9b528"/>
<circle cx="92.84" cy="559.10" r="2.1" fill="#e9b528"/>
<circle cx="99.00" cy="559.10" r="2.1" fill="#e9b528"/>
<circle cx="105.17" cy="559.50" r="2.1" fill="#e9b528"/>
<circle cx="111.34" cy="561.10" r="2.1" fill="#e9b528"/>
<circle cx="117.50" cy="561.10" r="2.1" fill="#e9b528"/>
<circle cx="123.67" cy="565.00" r="2.1" fill="#e9b528"/>
<circle cx="129.84" cy="565.00" r="2.1" fill="#e9b528"/>
<circle cx="136.00" cy="566.40" r="2.1" fill="#e9b528"/>
<circle cx="142.17" cy="567.40" r="2.1" fill="#e9b528"/>
<circle cx="148.34" cy="568.00" r="2.1" fill="#e9b528"/>
<circle cx="154.51" cy="567.80" r="2.1" fill="#e9b528"/>
<circle cx="160.67" cy="569.00" r="2.1" fill="#e9b528"/>
<circle cx="166.84" cy="569.00" r="2.1" fill="#e9b528"/>
<circle cx="173.01" cy="569.00" r="2.1" fill="#e9b528"/>
<circle cx="179.17" cy="569.80" r="2.1" fill="#e9b528"/>
<circle cx="185.34" cy="570.40" r="2.1" fill="#e9b528"/>
<circle cx="191.51" cy="572.00" r="2.1" fill="#e9b528"/>
<circle cx="197.67" cy="575.00" r="2.1" fill="#e9b528"/>
<circle cx="203.84" cy="575.90" r="2.1" fill="#e9b528"/>
<circle cx="210.01" cy="575.90" r="2.1" fill="#e9b528"/>
<circle cx="216.18" cy="579.50" r="2.1" fill="#e9b528"/>
<circle cx="222.34" cy="585.50" r="2.1" fill="#e9b528"/>
<circle cx="228.51" cy="586.50" r="2.1" fill="#e9b528"/>
<circle cx="234.68" cy="591.50" r="2.1" fill="#e9b528"/>
<circle cx="240.84" cy="605.30" r="2.1" fill="#e9b528"/>
<circle cx="247.01" cy="606.40" r="2.1" fill="#e9b528"/>
<circle cx="43.50" cy="596.50" r="2.1" fill="#3c6b50"/>
<circle cx="49.67" cy="572.00" r="2.1" fill="#3c6b50"/>
<circle cx="55.83" cy="560.10" r="2.1" fill="#3c6b50"/>
<circle cx="62.00" cy="557.50" r="2.1" fill="#3c6b50"/>
<circle cx="68.17" cy="592.80" r="2.1" fill="#3c6b50"/>
<circle cx="74.34" cy="567.80" r="2.1" fill="#3c6b50"/>
<circle cx="80.50" cy="573.00" r="2.1" fill="#3c6b50"/>
<circle cx="86.67" cy="565.00" r="2.1" fill="#3c6b50"/>
<circle cx="92.84" cy="569.40" r="2.1" fill="#3c6b50"/>
<circle cx="99.00" cy="585.80" r="2.1" fill="#3c6b50"/>
<circle cx="105.17" cy="564.50" r="2.1" fill="#3c6b50"/>
<circle cx="111.34" cy="570.40" r="2.1" fill="#3c6b50"/>
<circle cx="117.50" cy="565.00" r="2.1" fill="#3c6b50"/>
<circle cx="123.67" cy="579.30" r="2.1" fill="#3c6b50"/>
<circle cx="129.84" cy="588.80" r="2.1" fill="#3c6b50"/>
<circle cx="136.00" cy="524.90" r="2.1" fill="#3c6b50"/>
<circle cx="142.17" cy="563.90" r="2.1" fill="#3c6b50"/>
<circle cx="148.34" cy="568.40" r="2.1" fill="#3c6b50"/>
<circle cx="154.51" cy="576.50" r="2.1" fill="#3c6b50"/>
<circle cx="160.67" cy="573.40" r="2.1" fill="#3c6b50"/>
<circle cx="166.84" cy="573.40" r="2.1" fill="#3c6b50"/>
<circle cx="173.01" cy="581.30" r="2.1" fill="#3c6b50"/>
<circle cx="179.17" cy="577.30" r="2.1" fill="#3c6b50"/>
<circle cx="185.34" cy="569.00" r="2.1" fill="#3c6b50"/>
<circle cx="191.51" cy="569.40" r="2.1" fill="#3c6b50"/>
<circle cx="197.67" cy="570.40" r="2.1" fill="#3c6b50"/>
<circle cx="203.84" cy="590.80" r="2.1" fill="#3c6b50"/>
<circle cx="210.01" cy="578.00" r="2.1" fill="#3c6b50"/>
<circle cx="216.18" cy="584.80" r="2.1" fill="#3c6b50"/>
<circle cx="222.34" cy="573.30" r="2.1" fill="#3c6b50"/>
<circle cx="228.51" cy="573.30" r="2.1" fill="#3c6b50"/>
<circle cx="234.68" cy="570.50" r="2.1" fill="#3c6b50"/>
<circle cx="240.84" cy="569.00" r="2.1" fill="#3c6b50"/>
<circle cx="247.01" cy="558.10" r="2.1" fill="#3c6b50"/>
<circle cx="43.50" cy="580.50" r="2.1" fill="#a51d36"/>
<circle cx="49.67" cy="583.70" r="2.1" fill="#a51d36"/>
<circle cx="55.83" cy="575.70" r="2.1" fill="#a51d36"/>
<circle cx="62.00" cy="573.40" r="2.1" fill="#a51d36"/>
<circle cx="68.17" cy="561.90" r="2.1" fill="#a51d36"/>
<circle cx="74.34" cy="575.90" r="2.1" fill="#a51d36"/>
<circle cx="80.50" cy="599.10" r="2.1" fill="#a51d36"/>
<circle cx="86.67" cy="572.40" r="2.1" fill="#a51d36"/>
<circle cx="92.84" cy="565.00" r="2.1" fill="#a51d36"/>
<circle cx="99.00" cy="581.30" r="2.1" fill="#a51d36"/>
<circle cx="105.17" cy="572.00" r="2.1" fill="#a51d36"/>
<circle cx="111.34" cy="598.50" r="2.1" fill="#a51d36"/>
<circle cx="117.50" cy="574.40" r="2.1" fill="#a51d36"/>
<circle cx="123.67" cy="583.70" r="2.1" fill="#a51d36"/>
<circle cx="129.84" cy="569.00" r="2.1" fill="#a51d36"/>
<circle cx="136.00" cy="569.00" r="2.1" fill="#a51d36"/>
<circle cx="142.17" cy="585.20" r="2.1" fill="#a51d36"/>
<circle cx="148.34" cy="557.10" r="2.1" fill="#a51d36"/>
<circle cx="154.51" cy="572.00" r="2.1" fill="#a51d36"/>
<circle cx="160.67" cy="561.10" r="2.1" fill="#a51d36"/>
<circle cx="166.84" cy="580.90" r="2.1" fill="#a51d36"/>
<circle cx="173.01" cy="567.40" r="2.1" fill="#a51d36"/>
<circle cx="179.17" cy="554.00" r="2.1" fill="#a51d36"/>
<circle cx="185.34" cy="554.80" r="2.1" fill="#a51d36"/>
<circle cx="191.51" cy="528.80" r="2.1" fill="#a51d36"/>
<circle cx="197.67" cy="585.60" r="2.1" fill="#a51d36"/>
<circle cx="203.84" cy="600.90" r="2.1" fill="#a51d36"/>
<circle cx="210.01" cy="567.30" r="2.1" fill="#a51d36"/>
<circle cx="222.34" cy="580.10" r="2.1" fill="#a51d36"/>
<circle cx="228.51" cy="589.30" r="2.1" fill="#a51d36"/>
<circle cx="234.68" cy="565.80" r="2.1" fill="#a51d36"/>
<circle cx="240.84" cy="556.60" r="2.1" fill="#a51d36"/>
<circle cx="247.01" cy="573.30" r="2.1" fill="#a51d36"/>
<circle cx="55.83" cy="595.50" r="2.1" fill="#a51d36"/>
<path d="M54.63,595.60 A1.2,1.2 0 0 0 57.03,595.60 Z" fill="#e9a8b3"/>
<circle cx="68.17" cy="563.80" r="2.1" fill="#a51d36"/>
<path d="M66.97,563.90 A1.2,1.2 0 0 0 69.37,563.90 Z" fill="#e9a8b3"/>
<circle cx="105.17" cy="569.00" r="2.1" fill="#a51d36"/>
<path d="M103.97,569.10 A1.2,1.2 0 0 0 106.37,569.10 Z" fill="#e9a8b3"/>
<circle cx="136.00" cy="578.30" r="2.1" fill="#a51d36"/>
<path d="M134.81,578.40 A1.2,1.2 0 0 0 137.20,578.40 Z" fill="#e9a8b3"/>
<circle cx="142.17" cy="599.10" r="2.1" fill="#a51d36"/>
<path d="M140.97,599.20 A1.2,1.2 0 0 0 143.37,599.20 Z" fill="#e9a8b3"/>
<circle cx="179.17" cy="599.10" r="2.1" fill="#a51d36"/>
<path d="M177.97,599.20 A1.2,1.2 0 0 0 180.37,599.20 Z" fill="#e9a8b3"/>
<circle cx="197.67" cy="589.60" r="2.1" fill="#a51d36"/>
<path d="M196.47,589.70 A1.2,1.2 0 0 0 198.87,589.70 Z" fill="#e9a8b3"/>
<circle cx="216.18" cy="581.60" r="2.1" fill="#a51d36"/>
<path d="M214.98,581.70 A1.2,1.2 0 0 0 217.38,581.70 Z" fill="#e9a8b3"/>
<circle cx="228.51" cy="594.40" r="2.1" fill="#a51d36"/>
<path d="M227.31,594.50 A1.2,1.2 0 0 0 229.71,594.50 Z" fill="#e9a8b3"/>
<circle cx="234.68" cy="580.80" r="2.1" fill="#a51d36"/>
<path d="M233.48,580.90 A1.2,1.2 0 0 0 235.88,580.90 Z" fill="#e9a8b3"/>
<circle cx="240.84" cy="565.80" r="2.1" fill="#a51d36"/>
<path d="M239.64,565.90 A1.2,1.2 0 0 0 242.04,565.90 Z" fill="#e9a8b3"/>
<circle cx="247.01" cy="579.50" r="2.1" fill="#a51d36"/>
<path d="M245.81,579.60 A1.2,1.2 0 0 0 248.21,579.60 Z" fill="#e9a8b3"/>
<circle cx="68.17" cy="569.00" r="1.6500000000000001" fill="#fff" stroke="#a51d36" stroke-width="0.9"/>
<circle cx="234.68" cy="598.30" r="1.6500000000000001" fill="#fff" stroke="#a51d36" stroke-width="0.9"/>
<circle cx="240.84" cy="574.80" r="1.6500000000000001" fill="#fff" stroke="#a51d36" stroke-width="0.9"/>
<circle cx="218.00" cy="515.70" r="2.15" fill="#e9b528"/>
<text x="222.70" y="517.45" font-size="5.2" text-anchor="start" fill="#231f20" textLength="13.10" lengthAdjust="spacingAndGlyphs">SRSF2</text>
<circle cx="248.80" cy="515.70" r="2.15" fill="#3c6b50"/>
<text x="253.50" y="517.45" font-size="5.2" text-anchor="start" fill="#231f20" textLength="13.90" lengthAdjust="spacingAndGlyphs">ASXL1</text>
<circle cx="218.00" cy="524.60" r="2.15" fill="#a51d36"/>
<text x="222.70" y="526.35" font-size="5.2" fill="#231f20"><tspan textLength="44.20" lengthAdjust="spacingAndGlyphs">Signaling molecules</tspan><tspan font-size="3.5" dy="-2.9" dx="0.6">1st</tspan></text>
<circle cx="218.00" cy="533.20" r="2.15" fill="#a51d36"/>
<path d="M216.80,533.30 A1.2,1.2 0 0 0 219.20,533.30 Z" fill="#e9a8b3"/>
<text x="222.70" y="534.95" font-size="5.2" fill="#231f20"><tspan textLength="44.20" lengthAdjust="spacingAndGlyphs">Signaling molecules</tspan><tspan font-size="3.5" dy="-2.9" dx="0.6">2nd</tspan></text>
<circle cx="218.00" cy="541.70" r="1.7" fill="#fff" stroke="#a51d36" stroke-width="0.9"/>
<text x="222.70" y="543.45" font-size="5.2" fill="#231f20"><tspan textLength="44.20" lengthAdjust="spacingAndGlyphs">Signaling molecules</tspan><tspan font-size="3.5" dy="-2.9" dx="0.6">3rd</tspan></text>
<text x="291.20" y="516.10" font-size="10.6" text-anchor="start" fill="#231f20" textLength="7.40" lengthAdjust="spacingAndGlyphs">D</text>
<line x1="320.20" y1="521.80" x2="320.20" y2="609.50" stroke="#231f20" stroke-width="1.2"/>
<line x1="319.60" y1="608.90" x2="417.10" y2="608.90" stroke="#231f20" stroke-width="1.3"/>
<line x1="317.20" y1="608.90" x2="320.20" y2="608.90" stroke="#231f20" stroke-width="1.0"/>
<text x="314.60" y="611.00" font-size="5.7" text-anchor="end" fill="#231f20" stroke="#231f20" stroke-width="0.18">0</text>
<line x1="317.20" y1="591.88" x2="320.20" y2="591.88" stroke="#231f20" stroke-width="1.0"/>
<text x="314.60" y="593.98" font-size="5.7" text-anchor="end" fill="#231f20" stroke="#231f20" stroke-width="0.18">20</text>
<line x1="317.20" y1="574.86" x2="320.20" y2="574.86" stroke="#231f20" stroke-width="1.0"/>
<text x="314.60" y="576.96" font-size="5.7" text-anchor="end" fill="#231f20" stroke="#231f20" stroke-width="0.18">40</text>
<line x1="317.20" y1="557.84" x2="320.20" y2="557.84" stroke="#231f20" stroke-width="1.0"/>
<text x="314.60" y="559.94" font-size="5.7" text-anchor="end" fill="#231f20" stroke="#231f20" stroke-width="0.18">60</text>
<line x1="317.20" y1="540.82" x2="320.20" y2="540.82" stroke="#231f20" stroke-width="1.0"/>
<text x="314.60" y="542.92" font-size="5.7" text-anchor="end" fill="#231f20" stroke="#231f20" stroke-width="0.18">80</text>
<line x1="317.20" y1="523.80" x2="320.20" y2="523.80" stroke="#231f20" stroke-width="1.0"/>
<text x="314.60" y="525.90" font-size="5.7" text-anchor="end" fill="#231f20" stroke="#231f20" stroke-width="0.18">100</text>
<line x1="323.90" y1="608.90" x2="323.90" y2="611.30" stroke="#231f20" stroke-width="1.0"/>
<text x="324.90" y="616.30" font-size="4.1" text-anchor="end" fill="#333" transform="rotate(-47 324.90 616.30)">13-00242</text>
<line x1="330.82" y1="608.90" x2="330.82" y2="611.30" stroke="#231f20" stroke-width="1.0"/>
<text x="331.82" y="616.30" font-size="4.1" text-anchor="end" fill="#333" transform="rotate(-47 331.82 616.30)">13-01068</text>
<line x1="337.74" y1="608.90" x2="337.74" y2="611.30" stroke="#231f20" stroke-width="1.0"/>
<text x="338.74" y="616.30" font-size="4.1" text-anchor="end" fill="#333" transform="rotate(-47 338.74 616.30)">13-00357</text>
<line x1="344.66" y1="608.90" x2="344.66" y2="611.30" stroke="#231f20" stroke-width="1.0"/>
<text x="345.66" y="616.30" font-size="4.1" text-anchor="end" fill="#333" transform="rotate(-47 345.66 616.30)">13-01577</text>
<line x1="351.58" y1="608.90" x2="351.58" y2="611.30" stroke="#231f20" stroke-width="1.0"/>
<text x="352.58" y="616.30" font-size="4.1" text-anchor="end" fill="#333" transform="rotate(-47 352.58 616.30)">13-00646</text>
<line x1="358.50" y1="608.90" x2="358.50" y2="611.30" stroke="#231f20" stroke-width="1.0"/>
<text x="359.50" y="616.30" font-size="4.1" text-anchor="end" fill="#333" transform="rotate(-47 359.50 616.30)">13-00510</text>
<line x1="365.42" y1="608.90" x2="365.42" y2="611.30" stroke="#231f20" stroke-width="1.0"/>
<text x="366.42" y="616.30" font-size="4.1" text-anchor="end" fill="#333" transform="rotate(-47 366.42 616.30)">13-00543</text>
<line x1="372.34" y1="608.90" x2="372.34" y2="611.30" stroke="#231f20" stroke-width="1.0"/>
<text x="373.34" y="616.30" font-size="4.1" text-anchor="end" fill="#333" transform="rotate(-47 373.34 616.30)">12-00280</text>
<line x1="379.26" y1="608.90" x2="379.26" y2="611.30" stroke="#231f20" stroke-width="1.0"/>
<text x="380.26" y="616.30" font-size="4.1" text-anchor="end" fill="#333" transform="rotate(-47 380.26 616.30)">13-00186</text>
<line x1="386.18" y1="608.90" x2="386.18" y2="611.30" stroke="#231f20" stroke-width="1.0"/>
<text x="387.18" y="616.30" font-size="4.1" text-anchor="end" fill="#333" transform="rotate(-47 387.18 616.30)">13-00233</text>
<line x1="393.10" y1="608.90" x2="393.10" y2="611.30" stroke="#231f20" stroke-width="1.0"/>
<text x="394.10" y="616.30" font-size="4.1" text-anchor="end" fill="#333" transform="rotate(-47 394.10 616.30)">12-00264</text>
<line x1="400.02" y1="608.90" x2="400.02" y2="611.30" stroke="#231f20" stroke-width="1.0"/>
<text x="401.02" y="616.30" font-size="4.1" text-anchor="end" fill="#333" transform="rotate(-47 401.02 616.30)">13-00235</text>
<line x1="406.94" y1="608.90" x2="406.94" y2="611.30" stroke="#231f20" stroke-width="1.0"/>
<text x="407.94" y="616.30" font-size="4.1" text-anchor="end" fill="#333" transform="rotate(-47 407.94 616.30)">13-00865</text>
<line x1="413.86" y1="608.90" x2="413.86" y2="611.30" stroke="#231f20" stroke-width="1.0"/>
<text x="414.86" y="616.30" font-size="4.1" text-anchor="end" fill="#333" transform="rotate(-47 414.86 616.30)">13-00441</text>
<text x="299.50" y="565.40" font-size="8.5" text-anchor="middle" fill="#231f20" stroke="#231f20" stroke-width="0.05" transform="rotate(-90 299.50 565.40)" textLength="27.20" lengthAdjust="spacingAndGlyphs">VAF (%)</text>
<circle cx="323.90" cy="565.10" r="2.1" fill="#e9b528"/>
<circle cx="330.82" cy="575.20" r="2.1" fill="#e9b528"/>
<circle cx="337.74" cy="557.90" r="2.1" fill="#e9b528"/>
<circle cx="351.58" cy="531.90" r="2.1" fill="#e9b528"/>
<circle cx="358.50" cy="572.30" r="2.1" fill="#e9b528"/>
<circle cx="365.42" cy="572.90" r="2.1" fill="#e9b528"/>
<circle cx="372.34" cy="580.70" r="2.1" fill="#e9b528"/>
<circle cx="379.26" cy="578.60" r="2.1" fill="#e9b528"/>
<circle cx="386.18" cy="567.10" r="2.1" fill="#e9b528"/>
<circle cx="393.10" cy="524.10" r="2.1" fill="#e9b528"/>
<circle cx="400.02" cy="526.70" r="2.1" fill="#e9b528"/>
<circle cx="406.94" cy="533.10" r="2.1" fill="#e9b528"/>
<circle cx="413.86" cy="588.20" r="2.1" fill="#e9b528"/>
<circle cx="323.90" cy="541.10" r="2.1" fill="#3c6b50"/>
<circle cx="330.82" cy="563.10" r="2.1" fill="#3c6b50"/>
<circle cx="337.74" cy="563.10" r="2.1" fill="#3c6b50"/>
<circle cx="344.66" cy="563.10" r="2.1" fill="#3c6b50"/>
<circle cx="351.58" cy="565.10" r="2.1" fill="#3c6b50"/>
<circle cx="358.50" cy="568.50" r="2.1" fill="#3c6b50"/>
<circle cx="365.42" cy="568.50" r="2.1" fill="#3c6b50"/>
<circle cx="372.34" cy="568.50" r="2.1" fill="#3c6b50"/>
<circle cx="379.26" cy="569.40" r="2.1" fill="#3c6b50"/>
<circle cx="386.18" cy="570.00" r="2.1" fill="#3c6b50"/>
<circle cx="393.10" cy="570.60" r="2.1" fill="#3c6b50"/>
<circle cx="400.02" cy="575.20" r="2.1" fill="#3c6b50"/>
<circle cx="406.94" cy="577.50" r="2.1" fill="#3c6b50"/>
<circle cx="413.86" cy="585.30" r="2.1" fill="#3c6b50"/>
<circle cx="323.90" cy="598.00" r="2.1" fill="#a51d36"/>
<circle cx="330.82" cy="566.50" r="2.1" fill="#a51d36"/>
<circle cx="337.74" cy="536.00" r="2.1" fill="#a51d36"/>
<circle cx="344.66" cy="583.00" r="2.1" fill="#a51d36"/>
<circle cx="351.58" cy="539.10" r="2.1" fill="#a51d36"/>
<circle cx="358.50" cy="584.70" r="2.1" fill="#a51d36"/>
<circle cx="365.42" cy="562.20" r="2.1" fill="#a51d36"/>
<circle cx="372.34" cy="596.00" r="2.1" fill="#a51d36"/>
<circle cx="379.26" cy="576.00" r="2.1" fill="#a51d36"/>
<circle cx="386.18" cy="531.60" r="2.1" fill="#a51d36"/>
<circle cx="393.10" cy="557.00" r="2.1" fill="#a51d36"/>
<circle cx="400.02" cy="531.60" r="2.1" fill="#a51d36"/>
<circle cx="406.94" cy="568.50" r="2.1" fill="#a51d36"/>
<circle cx="413.86" cy="581.50" r="2.1" fill="#a51d36"/>
<circle cx="344.66" cy="587.30" r="2.1" fill="#a51d36"/>
<path d="M343.46,587.40 A1.2,1.2 0 0 0 345.86,587.40 Z" fill="#e9a8b3"/>
<circle cx="365.42" cy="584.70" r="2.1" fill="#a51d36"/>
<path d="M364.22,584.80 A1.2,1.2 0 0 0 366.62,584.80 Z" fill="#e9a8b3"/>
<circle cx="372.34" cy="577.50" r="2.1" fill="#a51d36"/>
<path d="M371.14,577.60 A1.2,1.2 0 0 0 373.54,577.60 Z" fill="#e9a8b3"/>
<circle cx="386.18" cy="593.60" r="2.1" fill="#a51d36"/>
<path d="M384.98,593.70 A1.2,1.2 0 0 0 387.38,593.70 Z" fill="#e9a8b3"/>
<circle cx="393.10" cy="565.10" r="2.1" fill="#a51d36"/>
<path d="M391.90,565.20 A1.2,1.2 0 0 0 394.30,565.20 Z" fill="#e9a8b3"/>
<circle cx="426.50" cy="523.30" r="2.15" fill="#e9b528"/>
<text x="431.20" y="525.05" font-size="5.2" text-anchor="start" fill="#231f20" textLength="11.50" lengthAdjust="spacingAndGlyphs">EZH2</text>
<circle cx="457.60" cy="523.30" r="2.15" fill="#3c6b50"/>
<text x="462.30" y="525.05" font-size="5.2" text-anchor="start" fill="#231f20" textLength="11.00" lengthAdjust="spacingAndGlyphs">TET2</text>
<circle cx="426.50" cy="532.20" r="2.15" fill="#a51d36"/>
<text x="431.20" y="533.95" font-size="5.2" fill="#231f20"><tspan textLength="44.20" lengthAdjust="spacingAndGlyphs">Signaling molecules</tspan><tspan font-size="3.5" dy="-2.9" dx="0.6">1st</tspan></text>
<circle cx="426.50" cy="540.60" r="2.15" fill="#a51d36"/>
<path d="M425.30,540.70 A1.2,1.2 0 0 0 427.70,540.70 Z" fill="#e9a8b3"/>
<text x="431.20" y="542.35" font-size="5.2" fill="#231f20"><tspan textLength="44.20" lengthAdjust="spacingAndGlyphs">Signaling molecules</tspan><tspan font-size="3.5" dy="-2.9" dx="0.6">2nd</tspan></text>
<rect x="0" y="0" width="520" height="1" fill="#4a4a4a"/>
<rect x="1" y="1" width="518" height="1" fill="#d6d6d6"/>
<rect x="0" y="0" width="1" height="636" fill="#000"/>
<rect x="519" y="0" width="1" height="636" fill="#000"/>
<rect x="0" y="635" width="520" height="1" fill="#000"/>
</svg>
</body></html>
